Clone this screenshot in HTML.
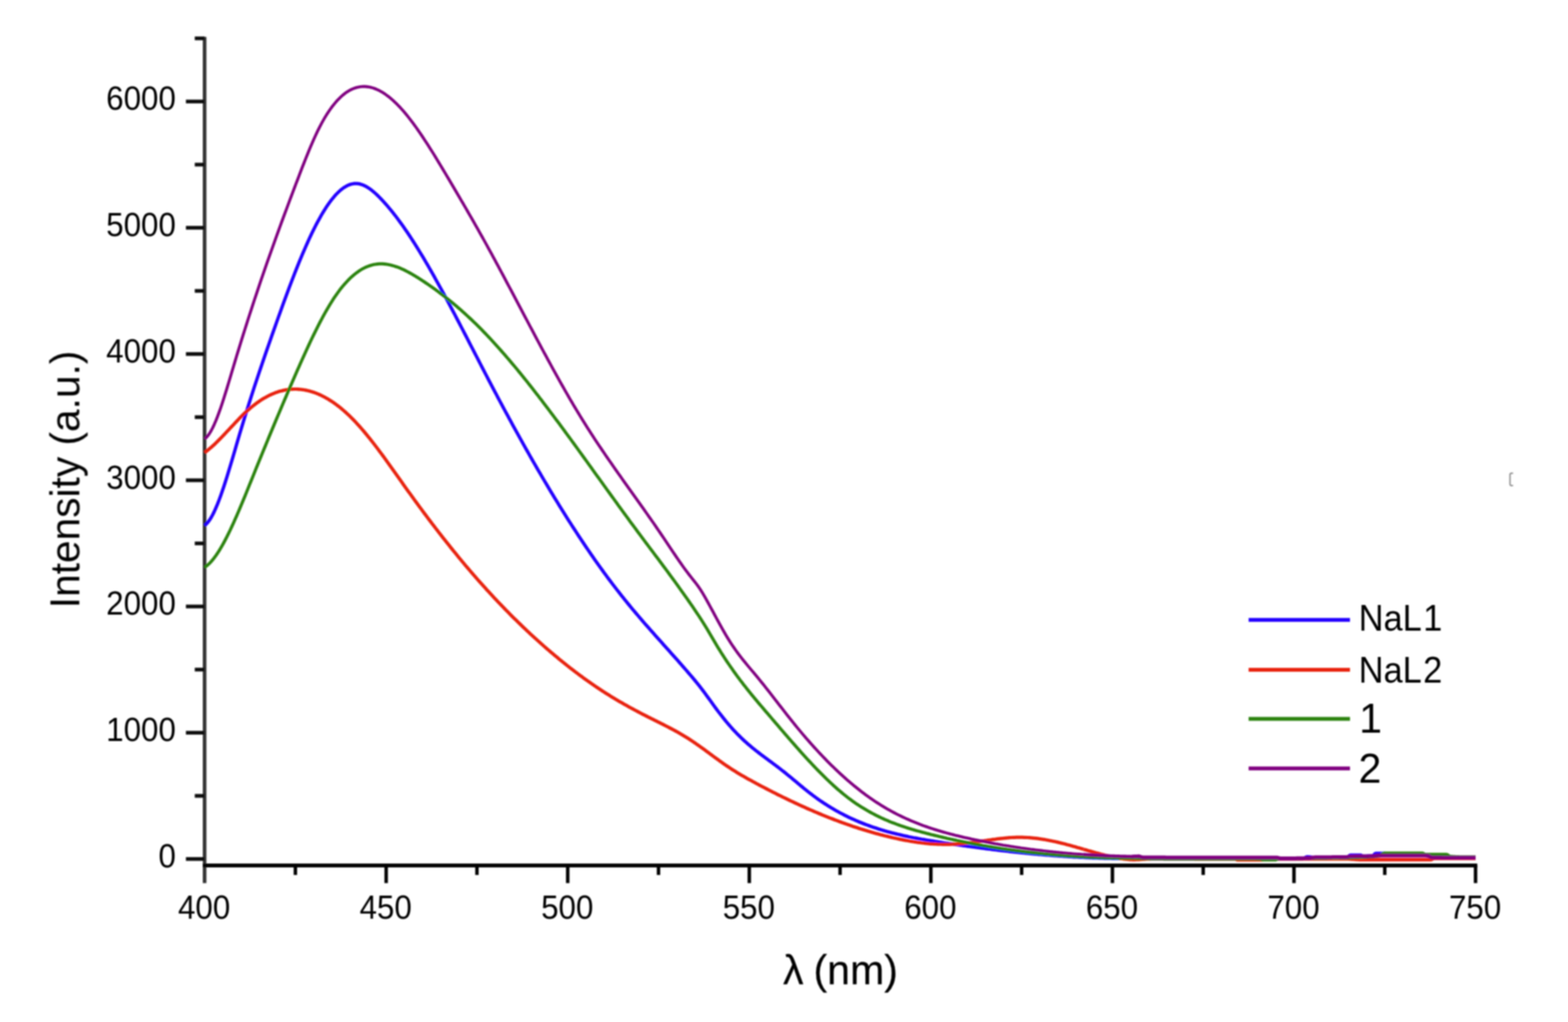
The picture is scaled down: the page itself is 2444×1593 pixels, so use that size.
<!DOCTYPE html>
<html lang="en"><head><meta charset="utf-8"><title>Emission spectra</title>
<style>
html,body{margin:0;padding:0;background:#fff;}
body{width:2444px;height:1593px;overflow:hidden;}
svg{display:block;}
text{font-family:"Liberation Sans",sans-serif;fill:#000;}
.tk{font-size:51.6px;}
.xt{font-size:65px;stroke:#000;stroke-width:0.25;paint-order:stroke fill;stroke-linejoin:round;}
.yt{font-size:65px;}
.lg{font-size:57px;}
.lgn{font-size:64px;}
.ax{fill:none;}
.cv{fill:none;stroke-linejoin:round;stroke-linecap:butt;}
</style></head><body>
<svg width="2444" height="1593" viewBox="0 0 2444 1593" role="img" aria-label="Emission spectra of NaL1, NaL2, 1 and 2">
<defs><filter id="soft" x="-2%" y="-2%" width="104%" height="104%"><feGaussianBlur stdDeviation="1.0"/></filter></defs>
<rect width="2444" height="1593" fill="#ffffff"/>
<g filter="url(#soft)">
<g class="ax" stroke="#303030" stroke-width="5.6">
<line x1="318.9" y1="57.5" x2="318.9" y2="1376.5"/>
</g>
<g class="ax" stroke="#101010" stroke-width="5.8">
<line x1="289.8" y1="1338.9" x2="318.9" y2="1338.9"/>
<line x1="303.6" y1="1240.5" x2="318.9" y2="1240.5"/>
<line x1="289.8" y1="1142.1" x2="318.9" y2="1142.1"/>
<line x1="303.6" y1="1043.7" x2="318.9" y2="1043.7"/>
<line x1="289.8" y1="945.3" x2="318.9" y2="945.3"/>
<line x1="303.6" y1="847.0" x2="318.9" y2="847.0"/>
<line x1="289.8" y1="748.6" x2="318.9" y2="748.6"/>
<line x1="303.6" y1="650.2" x2="318.9" y2="650.2"/>
<line x1="289.8" y1="551.8" x2="318.9" y2="551.8"/>
<line x1="303.6" y1="453.4" x2="318.9" y2="453.4"/>
<line x1="289.8" y1="355.0" x2="318.9" y2="355.0"/>
<line x1="303.6" y1="256.6" x2="318.9" y2="256.6"/>
<line x1="289.8" y1="158.2" x2="318.9" y2="158.2"/>
<line x1="303.6" y1="59.8" x2="318.9" y2="59.8"/>
</g>
<g class="ax" stroke="#000" stroke-width="6.2">
<line x1="316.1" y1="1349.0" x2="2302.6" y2="1349.0"/>
</g>
<g class="ax" stroke="#000" stroke-width="5.4">
<line x1="460.4" y1="1349.0" x2="460.4" y2="1363.8"/>
<line x1="601.9" y1="1349.0" x2="601.9" y2="1376.5"/>
<line x1="743.4" y1="1349.0" x2="743.4" y2="1363.8"/>
<line x1="884.9" y1="1349.0" x2="884.9" y2="1376.5"/>
<line x1="1026.4" y1="1349.0" x2="1026.4" y2="1363.8"/>
<line x1="1167.9" y1="1349.0" x2="1167.9" y2="1376.5"/>
<line x1="1309.4" y1="1349.0" x2="1309.4" y2="1363.8"/>
<line x1="1450.9" y1="1349.0" x2="1450.9" y2="1376.5"/>
<line x1="1592.4" y1="1349.0" x2="1592.4" y2="1363.8"/>
<line x1="1733.9" y1="1349.0" x2="1733.9" y2="1376.5"/>
<line x1="1875.4" y1="1349.0" x2="1875.4" y2="1363.8"/>
<line x1="2016.9" y1="1349.0" x2="2016.9" y2="1376.5"/>
<line x1="2158.4" y1="1349.0" x2="2158.4" y2="1363.8"/>
<line x1="2299.9" y1="1349.0" x2="2299.9" y2="1376.5"/>
</g>
<g class="cv" stroke="#2200ff">
<path stroke-width="5.2" d="M318.9,819.1 L321.4,817.0 L323.9,814.3 L326.4,810.9 L328.9,807.0 L331.4,802.5 L333.9,797.5 L336.4,791.9 L338.9,786.0 L341.4,779.6 L343.9,772.8 L346.4,765.7 L348.9,758.3 L351.4,750.6 L353.9,742.7 L356.4,734.6 L358.9,726.3 L361.4,717.9 L363.9,709.4 L366.4,700.9 L368.9,692.3 L371.4,683.8 L373.9,675.3 L376.4,667.0 L378.9,658.7 L381.4,650.5 L383.9,642.5 L386.4,634.5 L388.9,626.6 L391.4,618.7 L393.9,611.0 L396.4,603.3 L398.9,595.7 L401.4,588.2 L403.9,580.7 L406.4,573.3 L408.9,566.0 L411.4,558.7 L413.9,551.4 L416.4,544.2 L418.9,537.0 L421.4,529.9 L423.9,522.7 L426.4,515.6 L428.9,508.6 L431.4,501.5 L433.9,494.5 L436.4,487.6 L438.9,480.6 L441.4,473.7 L443.9,466.9 L446.4,460.1 L448.9,453.4 L451.4,446.7 L453.9,440.1 L456.4,433.6 L458.9,427.1 L461.4,420.8 L463.9,414.5 L466.4,408.3 L468.9,402.3 L471.4,396.3 L473.9,390.4 L476.4,384.7 L478.9,379.1 L481.4,373.5 L483.9,368.2 L486.4,362.9 L488.9,357.8 L491.4,352.9 L493.9,348.0 L496.4,343.4 L498.9,338.9 L501.4,334.5 L503.9,330.3 L506.4,326.3 L508.9,322.4 L511.4,318.7 L513.9,315.2 L516.4,311.9 L518.9,308.8 L521.4,305.8 L523.9,303.0 L526.4,300.5 L528.9,298.1 L531.4,295.9 L533.9,294.0 L536.4,292.2 L538.9,290.7 L541.4,289.3 L543.9,288.2 L546.4,287.3 L548.9,286.7 L551.4,286.2 L553.9,286.0 L556.4,286.1 L558.9,286.4 L561.4,286.9 L563.9,287.7 L566.4,288.6 L568.9,289.8 L571.4,291.1 L573.9,292.7 L576.4,294.4 L578.9,296.2 L581.4,298.2 L583.9,300.4 L586.4,302.6 L588.9,305.0 L591.4,307.5 L593.9,310.1 L596.4,312.7 L598.9,315.4 L601.4,318.2 L603.9,321.1 L606.4,324.1 L608.9,327.1 L611.4,330.2 L613.9,333.3 L616.4,336.5 L618.9,339.8 L621.4,343.2 L623.9,346.6 L626.4,350.1 L628.9,353.6 L631.4,357.2 L633.9,360.8 L636.4,364.5 L638.9,368.3 L641.4,372.1 L643.9,376.0 L646.4,379.9 L648.9,383.9 L651.4,387.9 L653.9,392.0 L656.4,396.1 L658.9,400.2 L661.4,404.4 L663.9,408.7 L666.4,412.9 L668.9,417.2 L671.4,421.6 L673.9,426.0 L676.4,430.4 L678.9,434.9 L681.4,439.4 L683.9,443.9 L686.4,448.4 L688.9,453.0 L691.4,457.6 L693.9,462.2 L696.4,466.9 L698.9,471.6 L701.4,476.2 L703.9,481.0 L706.4,485.7 L708.9,490.4 L711.4,495.2 L713.9,500.0 L716.4,504.8 L718.9,509.6 L721.4,514.4 L723.9,519.2 L726.4,524.0 L728.9,528.9 L731.4,533.7 L733.9,538.6 L736.4,543.4 L738.9,548.3 L741.4,553.1 L743.9,557.9 L746.4,562.8 L748.9,567.6 L751.4,572.5 L753.9,577.3 L756.4,582.1 L758.9,586.9 L761.4,591.7 L763.9,596.5 L766.4,601.2 L768.9,606.0 L771.4,610.7 L773.9,615.4 L776.4,620.2 L778.9,624.9 L781.4,629.5 L783.9,634.2 L786.4,638.9 L788.9,643.5 L791.4,648.1 L793.9,652.7 L796.4,657.3 L798.9,661.9 L801.4,666.5 L803.9,671.0 L806.4,675.5 L808.9,680.1 L811.4,684.6 L813.9,689.0 L816.4,693.5 L818.9,698.0 L821.4,702.4 L823.9,706.8 L826.4,711.2 L828.9,715.6 L831.4,720.0 L833.9,724.3 L836.4,728.6 L838.9,733.0 L841.4,737.2 L843.9,741.5 L846.4,745.8 L848.9,750.0 L851.4,754.2 L853.9,758.4 L856.4,762.6 L858.9,766.8 L861.4,770.9 L863.9,775.1 L866.4,779.2 L868.9,783.2 L871.4,787.3 L873.9,791.4 L876.4,795.4 L878.9,799.4 L881.4,803.4 L883.9,807.3 L886.4,811.3 L888.9,815.2 L891.4,819.1 L893.9,823.0 L896.4,826.8 L898.9,830.7 L901.4,834.5 L903.9,838.3 L906.4,842.0 L908.9,845.8 L911.4,849.5 L913.9,853.2 L916.4,856.9 L918.9,860.5 L921.4,864.2 L923.9,867.8 L926.4,871.4 L928.9,874.9 L931.4,878.5 L933.9,882.0 L936.4,885.5 L938.9,888.9 L941.4,892.4 L943.9,895.8 L946.4,899.2 L948.9,902.6 L951.4,905.9 L953.9,909.2 L956.4,912.5 L958.9,915.8 L961.4,919.0 L963.9,922.2 L966.4,925.4 L968.9,928.6 L971.4,931.7 L973.9,934.8 L976.4,937.9 L978.9,941.0 L981.4,944.0 L983.9,947.1 L986.4,950.1 L988.9,953.0 L991.4,956.0 L993.9,958.9 L996.4,961.9 L998.9,964.8 L1001.4,967.7 L1003.9,970.6 L1006.4,973.4 L1008.9,976.3 L1011.4,979.1 L1013.9,982.0 L1016.4,984.8 L1018.9,987.6 L1021.4,990.4 L1023.9,993.2 L1026.4,996.0 L1028.9,998.8 L1031.4,1001.6 L1033.9,1004.4 L1036.4,1007.2 L1038.9,1010.0 L1041.4,1012.8 L1043.9,1015.6 L1046.4,1018.4 L1048.9,1021.2 L1051.4,1024.0 L1053.9,1026.8 L1056.4,1029.6 L1058.9,1032.5 L1061.4,1035.3 L1063.9,1038.2 L1066.4,1041.0 L1068.9,1043.9 L1071.4,1046.8 L1073.9,1049.7 L1076.4,1052.6 L1078.9,1055.5 L1081.4,1058.5 L1083.9,1061.5 L1086.4,1064.6 L1088.9,1067.7 L1091.4,1070.9 L1093.9,1074.1 L1096.4,1077.4 L1098.9,1080.7 L1101.4,1084.2 L1103.9,1087.6 L1106.4,1091.1 L1108.9,1094.6 L1111.4,1098.0 L1113.9,1101.5 L1116.4,1104.9 L1118.9,1108.2 L1121.4,1111.5 L1123.9,1114.7 L1126.4,1117.9 L1128.9,1121.0 L1131.4,1124.1 L1133.9,1127.1 L1136.4,1130.0 L1138.9,1132.9 L1141.4,1135.7 L1143.9,1138.4 L1146.4,1141.1 L1148.9,1143.7 L1151.4,1146.2 L1153.9,1148.7 L1156.4,1151.1 L1158.9,1153.5 L1161.4,1155.8 L1163.9,1158.0 L1166.4,1160.2 L1168.9,1162.3 L1171.4,1164.4 L1173.9,1166.5 L1176.4,1168.5 L1178.9,1170.5 L1181.4,1172.4 L1183.9,1174.4 L1186.4,1176.3 L1188.9,1178.1 L1191.4,1180.0 L1193.9,1181.9 L1196.4,1183.7 L1198.9,1185.6 L1201.4,1187.4 L1203.9,1189.3 L1206.4,1191.2 L1208.9,1193.0 L1211.4,1194.9 L1213.9,1196.8 L1216.4,1198.7 L1218.9,1200.7 L1221.4,1202.6 L1223.9,1204.6 L1226.4,1206.7 L1228.9,1208.7 L1231.4,1210.8 L1233.9,1212.8 L1236.4,1214.9 L1238.9,1217.0 L1241.4,1219.1 L1243.9,1221.2 L1246.4,1223.3 L1248.9,1225.4 L1251.4,1227.4 L1253.9,1229.5 L1256.4,1231.5 L1258.9,1233.5 L1261.4,1235.5 L1263.9,1237.4 L1266.4,1239.3 L1268.9,1241.2 L1271.4,1243.0 L1273.9,1244.8 L1276.4,1246.6 L1278.9,1248.3 L1281.4,1250.0 L1283.9,1251.7 L1286.4,1253.3 L1288.9,1254.9 L1291.4,1256.5 L1293.9,1258.0 L1296.4,1259.6 L1298.9,1261.0 L1301.4,1262.5 L1303.9,1263.9 L1306.4,1265.3 L1308.9,1266.7 L1311.4,1268.0 L1313.9,1269.3 L1316.4,1270.6 L1318.9,1271.8 L1321.4,1273.1 L1323.9,1274.3 L1326.4,1275.5 L1328.9,1276.6 L1331.4,1277.7 L1333.9,1278.8 L1336.4,1279.9 L1338.9,1281.0 L1341.4,1282.0 L1343.9,1283.0 L1346.4,1284.0 L1348.9,1285.0 L1351.4,1285.9 L1353.9,1286.8 L1356.4,1287.7 L1358.9,1288.6 L1361.4,1289.5 L1363.9,1290.3 L1366.4,1291.1 L1368.9,1291.9 L1371.4,1292.7 L1373.9,1293.5 L1376.4,1294.2 L1378.9,1295.0 L1381.4,1295.7 L1383.9,1296.4 L1386.4,1297.1 L1388.9,1297.7 L1391.4,1298.4 L1393.9,1299.0 L1396.4,1299.6 L1398.9,1300.2 L1401.4,1300.8 L1403.9,1301.4 L1406.4,1302.0 L1408.9,1302.6 L1411.4,1303.1 L1413.9,1303.6 L1416.4,1304.2 L1418.9,1304.7 L1421.4,1305.2 L1423.9,1305.7 L1426.4,1306.1 L1428.9,1306.6 L1431.4,1307.1 L1433.9,1307.5 L1436.4,1308.0 L1438.9,1308.4 L1441.4,1308.9 L1443.9,1309.3 L1446.4,1309.7 L1448.9,1310.1 L1451.4,1310.5 L1453.9,1310.9 L1456.4,1311.3 L1458.9,1311.7 L1461.4,1312.1 L1463.9,1312.5 L1466.4,1312.9 L1468.9,1313.3 L1471.4,1313.7 L1473.9,1314.1 L1476.4,1314.4 L1478.9,1314.8 L1481.4,1315.2 L1483.9,1315.5 L1486.4,1315.9 L1488.9,1316.3 L1491.4,1316.6 L1493.9,1317.0 L1496.4,1317.4 L1498.9,1317.7 L1501.4,1318.1 L1503.9,1318.4 L1506.4,1318.8 L1508.9,1319.1 L1511.4,1319.5 L1513.9,1319.8 L1516.4,1320.2 L1518.9,1320.5 L1521.4,1320.8 L1523.9,1321.2 L1526.4,1321.5 L1528.9,1321.8 L1531.4,1322.2 L1533.9,1322.5 L1536.4,1322.8 L1538.9,1323.1 L1541.4,1323.4 L1543.9,1323.7 L1546.4,1324.1 L1548.9,1324.4 L1551.4,1324.7 L1553.9,1325.0 L1556.4,1325.3 L1558.9,1325.6 L1561.4,1325.9 L1563.9,1326.1 L1566.4,1326.4 L1568.9,1326.7 L1571.4,1327.0 L1573.9,1327.3 L1576.4,1327.6 L1578.9,1327.8 L1581.4,1328.1 L1583.9,1328.4 L1586.4,1328.6 L1588.9,1328.9 L1591.4,1329.1 L1593.9,1329.4 L1596.4,1329.6 L1598.9,1329.9 L1601.4,1330.1 L1603.9,1330.4 L1606.4,1330.6 L1608.9,1330.9 L1611.4,1331.1 L1613.9,1331.3 L1616.4,1331.5 L1618.9,1331.8 L1621.4,1332.0 L1623.9,1332.2 L1626.4,1332.4 L1628.9,1332.6 L1631.4,1332.8 L1633.9,1333.0 L1636.4,1333.2 L1638.9,1333.4 L1641.4,1333.6 L1643.9,1333.8 L1646.4,1334.0 L1648.9,1334.2 L1651.4,1334.3 L1653.9,1334.5 L1656.4,1334.7 L1658.9,1334.8 L1661.4,1335.0 L1663.9,1335.2 L1666.4,1335.3 L1668.9,1335.5 L1671.4,1335.6 L1673.9,1335.8 L1676.4,1335.9 L1678.9,1336.0 L1681.4,1336.2 L1683.9,1336.3 L1686.4,1336.4 L1688.9,1336.5"/>
<path stroke-width="5.4" d="M1688.9,1336.5 L1691.4,1336.6 L1693.9,1336.8 L1696.4,1336.9 L1698.9,1337.0 L1701.4,1337.1 L1703.9,1337.2 L1706.4,1337.3 L1708.9,1337.3 L1711.4,1337.4 L1713.9,1337.5 L1716.4,1337.6 L1718.9,1337.6 L1721.4,1337.7 L1723.9,1337.8 L1726.4,1337.8 L1728.9,1337.9 L1731.4,1337.9 L1733.9,1338.0 L1736.4,1338.0 L1738.9,1338.0 L1741.4,1338.1 L1743.9,1338.1 L1746.4,1338.1 L1748.9,1338.1 L1751.4,1338.2 L1753.9,1338.2 L1756.4,1338.2 L1758.9,1338.2 L1761.4,1338.2 L1763.9,1338.1"/>
<path stroke-width="5.6" d="M1763.9,1338.1 L1766.4,1338.2 L1767.9,1338.2 L1769.4,1338.2 L1770.9,1338.2 L1772.4,1338.2 L1773.9,1338.2 L1775.4,1338.2 L1776.9,1338.2 L1778.4,1338.2 L1779.9,1338.2 L1781.4,1338.3 L1782.9,1338.3 L1784.4,1338.3 L1785.9,1338.3 L1787.4,1338.3 L1788.9,1338.3 L1790.4,1338.3 L1791.9,1338.4 L1793.4,1338.4 L1794.9,1338.4 L1796.4,1338.4 L1797.9,1338.4 L1799.4,1338.4 L1800.9,1338.4 L1802.4,1338.4 L1803.9,1338.4 L1805.4,1338.4 L1806.9,1338.4 L1808.4,1338.4 L1809.9,1338.4 L1811.4,1338.4 L1812.9,1338.4 L1814.4,1338.4 L1815.9,1338.4 L1817.4,1338.4 L1818.9,1338.4 L1820.4,1338.4 L1821.9,1338.4 L1823.4,1338.4 L1824.9,1338.4 L1826.4,1338.4 L1827.9,1338.4 L1829.4,1338.4 L1830.9,1338.5 L1832.4,1338.5 L1833.9,1338.5 L1835.4,1338.5 L1836.9,1338.5 L1838.4,1338.5 L1839.9,1338.5 L1841.4,1338.5 L1842.9,1338.5 L1844.4,1338.5 L1845.9,1338.5 L1847.4,1338.5 L1848.9,1338.5 L1850.4,1338.5 L1851.9,1338.5 L1853.4,1338.5 L1854.9,1338.5 L1856.4,1338.5 L1857.9,1338.5 L1859.4,1338.5 L1860.9,1338.5 L1862.4,1338.5 L1863.9,1338.5 L1865.4,1338.5 L1866.9,1338.5 L1868.4,1338.5 L1869.9,1338.5 L1871.4,1338.5 L1872.9,1338.5 L1874.4,1338.5 L1875.9,1338.5 L1877.4,1338.5 L1878.9,1338.5 L1880.4,1338.5 L1881.9,1338.5 L1883.4,1338.5 L1884.9,1338.5 L1886.4,1338.5 L1887.9,1338.5 L1889.4,1338.5 L1890.9,1338.5 L1892.4,1338.5 L1893.9,1338.5 L1895.4,1338.5 L1896.9,1338.5 L1898.4,1338.5 L1899.9,1338.5 L1901.4,1338.5 L1902.9,1338.5 L1904.4,1338.5 L1905.9,1338.5 L1907.4,1338.5 L1908.9,1338.5 L1910.4,1338.5 L1911.9,1338.5 L1913.4,1338.5 L1914.9,1338.5 L1916.4,1338.5 L1917.9,1338.5 L1919.4,1338.5 L1920.9,1338.5 L1922.4,1338.5 L1923.9,1338.5 L1925.4,1338.5 L1926.9,1338.5 L1928.4,1338.5 L1929.9,1338.5 L1931.4,1338.5 L1932.9,1338.5 L1934.4,1338.5 L1935.9,1338.5 L1937.4,1338.5 L1938.9,1338.5 L1940.4,1338.5 L1941.9,1338.5 L1943.4,1338.5 L1944.9,1338.5 L1946.4,1338.5 L1947.9,1338.5 L1949.4,1338.5 L1950.9,1338.5 L1952.4,1338.5 L1953.9,1338.5 L1955.4,1338.5 L1956.9,1338.5 L1958.4,1338.5 L1959.9,1338.5 L1961.4,1338.5 L1962.9,1338.5 L1964.4,1338.5 L1965.9,1338.5 L1967.4,1338.5 L1968.9,1338.5 L1970.4,1338.5 L1971.9,1338.5 L1973.4,1338.5 L1974.9,1338.5 L1976.4,1338.5 L1977.9,1338.5 L1979.4,1338.5 L1980.9,1338.5 L1982.4,1338.5 L1983.9,1338.5 L1985.4,1338.5 L1986.9,1338.5 L1988.4,1338.5 L1989.9,1338.5 L1991.4,1338.5 L1992.9,1338.5 L1994.4,1338.5 L1995.9,1338.5 L1997.4,1338.5 L1998.9,1338.5 L2000.4,1338.5 L2001.9,1338.5 L2003.4,1338.5 L2004.9,1338.5 L2006.4,1338.5 L2007.9,1338.5 L2009.4,1338.5 L2010.9,1338.5 L2012.4,1338.5 L2013.9,1338.5 L2015.4,1338.5 L2016.9,1338.5 L2018.4,1338.5 L2019.9,1338.5 L2021.4,1338.5 L2022.9,1338.5 L2024.4,1338.5 L2025.9,1338.5 L2027.4,1338.5 L2028.9,1338.5 L2030.4,1338.5 L2031.9,1338.1 L2033.4,1337.4 L2034.9,1336.6 L2036.4,1335.9 L2037.9,1335.6 L2039.4,1335.7 L2040.9,1335.8 L2042.4,1336.0 L2043.9,1336.3 L2045.4,1336.5 L2046.9,1336.8 L2048.4,1336.9 L2049.9,1337.0 L2051.4,1337.0 L2052.9,1337.0 L2054.4,1337.0 L2055.9,1337.0 L2057.4,1337.0 L2058.9,1337.0 L2060.4,1337.0 L2061.9,1337.0 L2063.4,1337.0 L2064.9,1337.0 L2066.4,1337.0 L2067.9,1337.0 L2069.4,1337.0 L2070.9,1336.9 L2072.4,1336.9 L2073.9,1336.9 L2075.4,1336.9 L2076.9,1336.9 L2078.4,1336.9 L2079.9,1336.9 L2081.4,1336.9 L2082.9,1336.8 L2084.4,1336.8 L2085.9,1336.8 L2087.4,1336.8 L2088.9,1336.7 L2090.4,1336.7 L2091.9,1336.7 L2093.4,1336.7 L2094.9,1336.6 L2096.4,1336.6 L2097.9,1336.6 L2099.4,1336.5 L2100.9,1336.2 L2102.4,1334.8 L2103.9,1333.4 L2105.4,1333.0 L2106.9,1333.0 L2108.4,1333.0 L2109.9,1333.0 L2111.4,1333.0 L2112.9,1333.0 L2114.4,1333.0 L2115.9,1333.0 L2117.4,1333.0 L2118.9,1333.0 L2120.4,1333.0 L2121.9,1333.5 L2123.4,1334.1 L2124.9,1334.5 L2126.4,1334.5 L2127.9,1334.5 L2129.4,1334.5 L2130.9,1334.4 L2132.4,1334.4 L2133.9,1334.3 L2135.4,1334.3 L2136.9,1334.2 L2138.4,1334.1 L2139.9,1334.0 L2141.4,1332.9 L2142.9,1331.0 L2144.4,1330.4 L2145.9,1330.4 L2147.4,1330.4 L2148.9,1330.4 L2150.4,1330.4 L2151.9,1330.4 L2153.4,1330.4 L2154.9,1330.4 L2156.4,1330.4 L2157.9,1330.4 L2159.4,1330.7 L2160.9,1331.4 L2162.4,1331.9 L2163.9,1332.0 L2165.4,1332.1 L2166.9,1332.2 L2168.4,1332.2 L2169.9,1332.2 L2171.4,1332.3 L2172.9,1332.3 L2174.4,1332.4 L2175.9,1332.4 L2177.4,1332.4 L2178.9,1332.4 L2180.4,1332.5 L2181.9,1332.5 L2183.4,1332.5 L2184.9,1332.5 L2186.4,1332.5 L2187.9,1332.5 L2189.4,1332.5 L2190.9,1332.5 L2192.4,1332.5 L2193.9,1332.5 L2195.4,1332.6 L2196.9,1332.6 L2198.4,1332.6 L2199.9,1332.6 L2201.4,1332.6 L2202.9,1332.6 L2204.4,1332.6 L2205.9,1332.7 L2207.4,1332.7 L2208.9,1332.7 L2210.4,1332.7 L2211.9,1332.8 L2213.4,1332.8 L2214.9,1332.8 L2216.4,1332.9 L2217.9,1332.9 L2219.4,1333.0 L2220.9,1333.1 L2222.4,1333.3 L2223.9,1333.7 L2225.4,1334.1 L2226.9,1334.6 L2228.4,1335.1 L2229.9,1335.6 L2231.4,1336.0 L2232.9,1336.3 L2234.4,1336.5 L2235.9,1336.5 L2237.4,1336.5 L2238.9,1336.6 L2240.4,1336.6 L2241.9,1336.6 L2243.4,1336.6 L2244.9,1336.7 L2246.4,1336.7 L2247.9,1336.7 L2249.4,1336.7 L2250.9,1336.7 L2252.4,1336.8 L2253.9,1336.8 L2255.4,1336.8 L2256.9,1336.8 L2258.4,1336.8 L2259.9,1336.8 L2261.4,1336.9 L2262.9,1336.9 L2264.4,1336.9 L2265.9,1336.9 L2267.4,1336.9 L2268.9,1336.9 L2270.4,1336.9 L2271.9,1336.9 L2273.4,1336.9 L2274.9,1336.9 L2276.4,1337.0 L2277.9,1337.0 L2279.4,1337.0 L2280.9,1337.0 L2282.4,1337.0 L2283.9,1337.0 L2285.4,1337.0 L2286.9,1337.0 L2288.4,1337.0 L2289.9,1337.0 L2291.4,1337.0 L2292.9,1337.0 L2294.4,1337.0 L2295.9,1337.0 L2297.4,1337.0 L2298.9,1337.0 L2300.0,1337.0"/>
</g>
<g class="cv" stroke="#e8200c">
<path stroke-width="5.2" d="M318.9,705.5 L321.4,703.6 L323.9,701.7 L326.4,699.6 L328.9,697.5 L331.4,695.3 L333.9,693.0 L336.4,690.6 L338.9,688.2 L341.4,685.7 L343.9,683.1 L346.4,680.5 L348.9,677.9 L351.4,675.3 L353.9,672.6 L356.4,669.9 L358.9,667.2 L361.4,664.6 L363.9,661.9 L366.4,659.2 L368.9,656.6 L371.4,654.0 L373.9,651.4 L376.4,648.9 L378.9,646.4 L381.4,644.0 L383.9,641.7 L386.4,639.4 L388.9,637.2 L391.4,635.1 L393.9,633.0 L396.4,631.1 L398.9,629.2 L401.4,627.4 L403.9,625.6 L406.4,623.9 L408.9,622.3 L411.4,620.8 L413.9,619.4 L416.4,618.0 L418.9,616.7 L421.4,615.5 L423.9,614.4 L426.4,613.3 L428.9,612.3 L431.4,611.4 L433.9,610.6 L436.4,609.8 L438.9,609.2 L441.4,608.6 L443.9,608.0 L446.4,607.6 L448.9,607.2 L451.4,606.9 L453.9,606.7 L456.4,606.6 L458.9,606.5 L461.4,606.5 L463.9,606.6 L466.4,606.8 L468.9,607.0 L471.4,607.3 L473.9,607.7 L476.4,608.1 L478.9,608.7 L481.4,609.3 L483.9,610.0 L486.4,610.7 L488.9,611.5 L491.4,612.4 L493.9,613.4 L496.4,614.4 L498.9,615.5 L501.4,616.7 L503.9,618.0 L506.4,619.3 L508.9,620.7 L511.4,622.1 L513.9,623.7 L516.4,625.3 L518.9,626.9 L521.4,628.7 L523.9,630.5 L526.4,632.4 L528.9,634.3 L531.4,636.3 L533.9,638.4 L536.4,640.6 L538.9,642.8 L541.4,645.1 L543.9,647.4 L546.4,649.8 L548.9,652.3 L551.4,654.9 L553.9,657.5 L556.4,660.2 L558.9,662.9 L561.4,665.7 L563.9,668.6 L566.4,671.5 L568.9,674.5 L571.4,677.5 L573.9,680.6 L576.4,683.7 L578.9,686.8 L581.4,690.0 L583.9,693.3 L586.4,696.5 L588.9,699.8 L591.4,703.2 L593.9,706.5 L596.4,709.9 L598.9,713.3 L601.4,716.8 L603.9,720.2 L606.4,723.7 L608.9,727.2 L611.4,730.7 L613.9,734.2 L616.4,737.7 L618.9,741.3 L621.4,744.8 L623.9,748.3 L626.4,751.8 L628.9,755.4 L631.4,758.9 L633.9,762.4 L636.4,765.9 L638.9,769.3 L641.4,772.8 L643.9,776.3 L646.4,779.7 L648.9,783.1 L651.4,786.6 L653.9,790.0 L656.4,793.3 L658.9,796.7 L661.4,800.1 L663.9,803.4 L666.4,806.8 L668.9,810.1 L671.4,813.4 L673.9,816.7 L676.4,819.9 L678.9,823.2 L681.4,826.4 L683.9,829.7 L686.4,832.9 L688.9,836.1 L691.4,839.3 L693.9,842.4 L696.4,845.6 L698.9,848.7 L701.4,851.9 L703.9,855.0 L706.4,858.1 L708.9,861.1 L711.4,864.2 L713.9,867.3 L716.4,870.3 L718.9,873.3 L721.4,876.3 L723.9,879.3 L726.4,882.3 L728.9,885.2 L731.4,888.1 L733.9,891.1 L736.4,894.0 L738.9,896.9 L741.4,899.7 L743.9,902.6 L746.4,905.4 L748.9,908.2 L751.4,911.0 L753.9,913.8 L756.4,916.6 L758.9,919.4 L761.4,922.1 L763.9,924.8 L766.4,927.5 L768.9,930.2 L771.4,932.9 L773.9,935.6 L776.4,938.2 L778.9,940.8 L781.4,943.4 L783.9,946.0 L786.4,948.6 L788.9,951.2 L791.4,953.7 L793.9,956.3 L796.4,958.8 L798.9,961.3 L801.4,963.8 L803.9,966.2 L806.4,968.7 L808.9,971.1 L811.4,973.5 L813.9,976.0 L816.4,978.3 L818.9,980.7 L821.4,983.1 L823.9,985.4 L826.4,987.8 L828.9,990.1 L831.4,992.4 L833.9,994.7 L836.4,996.9 L838.9,999.2 L841.4,1001.4 L843.9,1003.7 L846.4,1005.9 L848.9,1008.1 L851.4,1010.3 L853.9,1012.4 L856.4,1014.6 L858.9,1016.7 L861.4,1018.8 L863.9,1020.9 L866.4,1023.0 L868.9,1025.1 L871.4,1027.2 L873.9,1029.2 L876.4,1031.3 L878.9,1033.3 L881.4,1035.3 L883.9,1037.3 L886.4,1039.2 L888.9,1041.2 L891.4,1043.1 L893.9,1045.0 L896.4,1047.0 L898.9,1048.8 L901.4,1050.7 L903.9,1052.6 L906.4,1054.4 L908.9,1056.3 L911.4,1058.1 L913.9,1059.9 L916.4,1061.6 L918.9,1063.4 L921.4,1065.2 L923.9,1066.9 L926.4,1068.6 L928.9,1070.3 L931.4,1072.0 L933.9,1073.7 L936.4,1075.3 L938.9,1077.0 L941.4,1078.6 L943.9,1080.2 L946.4,1081.8 L948.9,1083.3 L951.4,1084.9 L953.9,1086.4 L956.4,1087.9 L958.9,1089.5 L961.4,1090.9 L963.9,1092.4 L966.4,1093.9 L968.9,1095.3 L971.4,1096.8 L973.9,1098.2 L976.4,1099.6 L978.9,1101.0 L981.4,1102.4 L983.9,1103.8 L986.4,1105.1 L988.9,1106.5 L991.4,1107.8 L993.9,1109.1 L996.4,1110.4 L998.9,1111.8 L1001.4,1113.1 L1003.9,1114.3 L1006.4,1115.6 L1008.9,1116.9 L1011.4,1118.2 L1013.9,1119.4 L1016.4,1120.7 L1018.9,1121.9 L1021.4,1123.2 L1023.9,1124.4 L1026.4,1125.7 L1028.9,1126.9 L1031.4,1128.2 L1033.9,1129.4 L1036.4,1130.7 L1038.9,1132.0 L1041.4,1133.3 L1043.9,1134.6 L1046.4,1135.9 L1048.9,1137.2 L1051.4,1138.6 L1053.9,1139.9 L1056.4,1141.3 L1058.9,1142.8 L1061.4,1144.2 L1063.9,1145.7 L1066.4,1147.2 L1068.9,1148.7 L1071.4,1150.2 L1073.9,1151.8 L1076.4,1153.5 L1078.9,1155.1 L1081.4,1156.8 L1083.9,1158.5 L1086.4,1160.3 L1088.9,1162.0 L1091.4,1163.8 L1093.9,1165.6 L1096.4,1167.4 L1098.9,1169.2 L1101.4,1171.1 L1103.9,1172.9 L1106.4,1174.8 L1108.9,1176.6 L1111.4,1178.5 L1113.9,1180.3 L1116.4,1182.1 L1118.9,1183.9 L1121.4,1185.8 L1123.9,1187.5 L1126.4,1189.3 L1128.9,1191.1 L1131.4,1192.8 L1133.9,1194.5 L1136.4,1196.2 L1138.9,1197.9 L1141.4,1199.5 L1143.9,1201.1 L1146.4,1202.6 L1148.9,1204.2 L1151.4,1205.7 L1153.9,1207.2 L1156.4,1208.7 L1158.9,1210.1 L1161.4,1211.5 L1163.9,1213.0 L1166.4,1214.4 L1168.9,1215.7 L1171.4,1217.1 L1173.9,1218.5 L1176.4,1219.8 L1178.9,1221.2 L1181.4,1222.5 L1183.9,1223.9 L1186.4,1225.2 L1188.9,1226.5 L1191.4,1227.8 L1193.9,1229.1 L1196.4,1230.4 L1198.9,1231.7 L1201.4,1233.0 L1203.9,1234.3 L1206.4,1235.5 L1208.9,1236.8 L1211.4,1238.1 L1213.9,1239.3 L1216.4,1240.5 L1218.9,1241.8 L1221.4,1243.0 L1223.9,1244.2 L1226.4,1245.4 L1228.9,1246.6 L1231.4,1247.8 L1233.9,1249.0 L1236.4,1250.2 L1238.9,1251.4 L1241.4,1252.5 L1243.9,1253.7 L1246.4,1254.8 L1248.9,1256.0 L1251.4,1257.1 L1253.9,1258.2 L1256.4,1259.4 L1258.9,1260.5 L1261.4,1261.6 L1263.9,1262.7 L1266.4,1263.7 L1268.9,1264.8 L1271.4,1265.9 L1273.9,1266.9 L1276.4,1268.0 L1278.9,1269.0 L1281.4,1270.1 L1283.9,1271.1 L1286.4,1272.1 L1288.9,1273.1 L1291.4,1274.1 L1293.9,1275.1 L1296.4,1276.0 L1298.9,1277.0 L1301.4,1278.0 L1303.9,1278.9 L1306.4,1279.8 L1308.9,1280.8 L1311.4,1281.7 L1313.9,1282.6 L1316.4,1283.5 L1318.9,1284.4 L1321.4,1285.3 L1323.9,1286.1 L1326.4,1287.0 L1328.9,1287.9 L1331.4,1288.7 L1333.9,1289.5 L1336.4,1290.3 L1338.9,1291.2 L1341.4,1292.0 L1343.9,1292.7 L1346.4,1293.5 L1348.9,1294.3 L1351.4,1295.0 L1353.9,1295.8 L1356.4,1296.5 L1358.9,1297.3 L1361.4,1298.0 L1363.9,1298.7 L1366.4,1299.4 L1368.9,1300.0 L1371.4,1300.7 L1373.9,1301.4 L1376.4,1302.0 L1378.9,1302.7 L1381.4,1303.3 L1383.9,1303.9 L1386.4,1304.5 L1388.9,1305.1 L1391.4,1305.7 L1393.9,1306.2 L1396.4,1306.8 L1398.9,1307.3 L1401.4,1307.9 L1403.9,1308.4 L1406.4,1308.9 L1408.9,1309.4 L1411.4,1309.9 L1413.9,1310.3 L1416.4,1310.8 L1418.9,1311.2 L1421.4,1311.6 L1423.9,1312.0 L1426.4,1312.4 L1428.9,1312.8 L1431.4,1313.1 L1433.9,1313.4 L1436.4,1313.8 L1438.9,1314.0 L1441.4,1314.3 L1443.9,1314.6 L1446.4,1314.8 L1448.9,1315.1 L1451.4,1315.3 L1453.9,1315.4 L1456.4,1315.6 L1458.9,1315.7 L1461.4,1315.9 L1463.9,1316.0 L1466.4,1316.0 L1468.9,1316.1 L1471.4,1316.1 L1473.9,1316.2 L1476.4,1316.2 L1478.9,1316.1 L1481.4,1316.1 L1483.9,1316.0 L1486.4,1315.9 L1488.9,1315.8 L1491.4,1315.6 L1493.9,1315.4 L1496.4,1315.2 L1498.9,1315.0 L1501.4,1314.8 L1503.9,1314.5 L1506.4,1314.3 L1508.9,1314.0 L1511.4,1313.7 L1513.9,1313.3 L1516.4,1313.0 L1518.9,1312.7 L1521.4,1312.3 L1523.9,1312.0 L1526.4,1311.6 L1528.9,1311.3 L1531.4,1310.9 L1533.9,1310.5 L1536.4,1310.2 L1538.9,1309.8 L1541.4,1309.4 L1543.9,1309.1 L1546.4,1308.7 L1548.9,1308.4 L1551.4,1308.1 L1553.9,1307.7 L1556.4,1307.4 L1558.9,1307.1 L1561.4,1306.8 L1563.9,1306.6 L1566.4,1306.3 L1568.9,1306.1 L1571.4,1305.9 L1573.9,1305.7 L1576.4,1305.5 L1578.9,1305.4 L1581.4,1305.3 L1583.9,1305.2 L1586.4,1305.2 L1588.9,1305.1 L1591.4,1305.1 L1593.9,1305.2 L1596.4,1305.3 L1598.9,1305.4 L1601.4,1305.5 L1603.9,1305.7 L1606.4,1305.9 L1608.9,1306.1 L1611.4,1306.3 L1613.9,1306.6 L1616.4,1306.9 L1618.9,1307.2 L1621.4,1307.6 L1623.9,1308.0 L1626.4,1308.4 L1628.9,1308.8 L1631.4,1309.2 L1633.9,1309.7 L1636.4,1310.2 L1638.9,1310.7 L1641.4,1311.2 L1643.9,1311.7 L1646.4,1312.3 L1648.9,1312.9 L1651.4,1313.5 L1653.9,1314.1 L1656.4,1314.7 L1658.9,1315.3 L1661.4,1316.0 L1663.9,1316.7 L1666.4,1317.3 L1668.9,1318.0 L1671.4,1318.7 L1673.9,1319.4 L1676.4,1320.1 L1678.9,1320.9 L1681.4,1321.6 L1683.9,1322.3 L1686.4,1323.0 L1688.9,1323.8"/>
<path stroke-width="5.4" d="M1688.9,1323.8 L1691.4,1324.5 L1693.9,1325.2 L1696.4,1326.0 L1698.9,1326.7 L1701.4,1327.4 L1703.9,1328.1 L1706.4,1328.8 L1708.9,1329.5 L1711.4,1330.2 L1713.9,1330.9 L1716.4,1331.6 L1718.9,1332.2 L1721.4,1332.9 L1723.9,1333.5 L1726.4,1334.1 L1728.9,1334.7 L1731.4,1335.2 L1733.9,1335.7 L1736.4,1336.3 L1738.9,1336.7 L1741.4,1337.2 L1743.9,1337.6 L1746.4,1338.1 L1748.9,1338.4 L1751.4,1338.8 L1753.9,1339.1 L1756.4,1339.4 L1758.9,1339.6 L1761.4,1339.8 L1763.9,1340.0"/>
<path stroke-width="5.6" d="M1763.9,1340.0 L1766.4,1340.0 L1767.9,1339.9 L1769.4,1339.9 L1770.9,1339.8 L1772.4,1339.8 L1773.9,1339.7 L1775.4,1339.6 L1776.9,1339.5 L1778.4,1339.4 L1779.9,1339.3 L1781.4,1339.2 L1782.9,1339.1 L1784.4,1339.0 L1785.9,1338.9 L1787.4,1338.8 L1788.9,1338.8 L1790.4,1338.7 L1791.9,1338.6 L1793.4,1338.5 L1794.9,1338.5 L1796.4,1338.4 L1797.9,1338.4 L1799.4,1338.4 L1800.9,1338.4 L1802.4,1338.4 L1803.9,1338.4 L1805.4,1338.4 L1806.9,1338.4 L1808.4,1338.4 L1809.9,1338.4 L1811.4,1338.4 L1812.9,1338.4 L1814.4,1338.4 L1815.9,1338.4 L1817.4,1338.4 L1818.9,1338.4 L1820.4,1338.4 L1821.9,1338.4 L1823.4,1338.4 L1824.9,1338.4 L1826.4,1338.4 L1827.9,1338.4 L1829.4,1338.4 L1830.9,1338.4 L1832.4,1338.4 L1833.9,1338.5 L1835.4,1338.5 L1836.9,1338.5 L1838.4,1338.5 L1839.9,1338.5 L1841.4,1338.5 L1842.9,1338.5 L1844.4,1338.5 L1845.9,1338.5 L1847.4,1338.5 L1848.9,1338.5 L1850.4,1338.5 L1851.9,1338.5 L1853.4,1338.5 L1854.9,1338.5 L1856.4,1338.5 L1857.9,1338.5 L1859.4,1338.5 L1860.9,1338.5 L1862.4,1338.6 L1863.9,1338.6 L1865.4,1338.6 L1866.9,1338.6 L1868.4,1338.6 L1869.9,1338.6 L1871.4,1338.6 L1872.9,1338.6 L1874.4,1338.6 L1875.9,1338.6 L1877.4,1338.6 L1878.9,1338.6 L1880.4,1338.6 L1881.9,1338.6 L1883.4,1338.6 L1884.9,1338.6 L1886.4,1338.6 L1887.9,1338.7 L1889.4,1338.7 L1890.9,1338.7 L1892.4,1338.7 L1893.9,1338.7 L1895.4,1338.7 L1896.9,1338.7 L1898.4,1338.7 L1899.9,1338.7 L1901.4,1338.7 L1902.9,1338.7 L1904.4,1338.7 L1905.9,1338.7 L1907.4,1338.7 L1908.9,1338.7 L1910.4,1338.7 L1911.9,1338.7 L1913.4,1338.7 L1914.9,1338.7 L1916.4,1338.7 L1917.9,1338.7 L1919.4,1338.8 L1920.9,1338.8 L1922.4,1338.8 L1923.9,1338.8 L1925.4,1338.8 L1926.9,1339.5 L1928.4,1340.1 L1929.9,1340.2 L1931.4,1340.2 L1932.9,1340.2 L1934.4,1340.2 L1935.9,1340.2 L1937.4,1340.2 L1938.9,1340.2 L1940.4,1340.2 L1941.9,1340.2 L1943.4,1340.2 L1944.9,1340.2 L1946.4,1340.2 L1947.9,1340.2 L1949.4,1340.2 L1950.9,1340.2 L1952.4,1340.2 L1953.9,1340.2 L1955.4,1340.2 L1956.9,1340.2 L1958.4,1340.2 L1959.9,1340.2 L1961.4,1340.2 L1962.9,1340.2 L1964.4,1340.2 L1965.9,1340.2 L1967.4,1339.8 L1968.9,1339.1 L1970.4,1338.8 L1971.9,1338.8 L1973.4,1338.8 L1974.9,1338.8 L1976.4,1338.8 L1977.9,1338.8 L1979.4,1338.8 L1980.9,1338.8 L1982.4,1338.8 L1983.9,1338.8 L1985.4,1338.8 L1986.9,1338.8 L1988.4,1338.8 L1989.9,1338.8 L1991.4,1338.8 L1992.9,1338.8 L1994.4,1338.8 L1995.9,1338.8 L1997.4,1338.8 L1998.9,1338.8 L2000.4,1338.8 L2001.9,1338.8 L2003.4,1338.8 L2004.9,1338.8 L2006.4,1338.8 L2007.9,1338.8 L2009.4,1338.8 L2010.9,1338.8 L2012.4,1338.8 L2013.9,1338.8 L2015.4,1338.8 L2016.9,1338.8 L2018.4,1338.8 L2019.9,1338.8 L2021.4,1338.8 L2022.9,1338.8 L2024.4,1338.8 L2025.9,1338.8 L2027.4,1338.8 L2028.9,1338.8 L2030.4,1338.8 L2031.9,1338.8 L2033.4,1338.8 L2034.9,1338.8 L2036.4,1338.8 L2037.9,1338.8 L2039.4,1338.8 L2040.9,1338.8 L2042.4,1338.8 L2043.9,1338.8 L2045.4,1338.8 L2046.9,1338.8 L2048.4,1338.8 L2049.9,1338.8 L2051.4,1338.8 L2052.9,1338.8 L2054.4,1338.8 L2055.9,1338.8 L2057.4,1338.8 L2058.9,1338.8 L2060.4,1338.8 L2061.9,1338.8 L2063.4,1338.8 L2064.9,1338.8 L2066.4,1338.8 L2067.9,1338.8 L2069.4,1338.8 L2070.9,1338.8 L2072.4,1338.8 L2073.9,1338.8 L2075.4,1338.8 L2076.9,1338.8 L2078.4,1338.8 L2079.9,1338.8 L2081.4,1338.8 L2082.9,1338.8 L2084.4,1338.8 L2085.9,1338.8 L2087.4,1338.8 L2088.9,1338.8 L2090.4,1338.8 L2091.9,1338.8 L2093.4,1338.8 L2094.9,1338.8 L2096.4,1338.8 L2097.9,1338.8 L2099.4,1338.8 L2100.9,1338.8 L2102.4,1338.8 L2103.9,1338.9 L2105.4,1339.0 L2106.9,1339.1 L2108.4,1339.2 L2109.9,1339.3 L2111.4,1339.4 L2112.9,1339.5 L2114.4,1339.6 L2115.9,1339.7 L2117.4,1339.8 L2118.9,1339.9 L2120.4,1340.0 L2121.9,1340.0 L2123.4,1340.0 L2124.9,1340.0 L2126.4,1340.0 L2127.9,1340.0 L2129.4,1340.0 L2130.9,1340.0 L2132.4,1340.0 L2133.9,1340.0 L2135.4,1340.0 L2136.9,1340.0 L2138.4,1340.0 L2139.9,1340.0 L2141.4,1340.0 L2142.9,1340.0 L2144.4,1340.0 L2145.9,1340.0 L2147.4,1340.0 L2148.9,1340.0 L2150.4,1340.0 L2151.9,1340.0 L2153.4,1340.0 L2154.9,1340.0 L2156.4,1340.0 L2157.9,1340.0 L2159.4,1340.0 L2160.9,1340.0 L2162.4,1340.0 L2163.9,1340.0 L2165.4,1340.0 L2166.9,1340.0 L2168.4,1340.0 L2169.9,1340.0 L2171.4,1340.0 L2172.9,1340.0 L2174.4,1340.0 L2175.9,1340.0 L2177.4,1340.0 L2178.9,1340.0 L2180.4,1340.0 L2181.9,1340.0 L2183.4,1340.0 L2184.9,1340.0 L2186.4,1340.0 L2187.9,1340.0 L2189.4,1340.0 L2190.9,1340.0 L2192.4,1340.0 L2193.9,1340.0 L2195.4,1340.0 L2196.9,1340.0 L2198.4,1340.0 L2199.9,1340.0 L2201.4,1340.0 L2202.9,1340.0 L2204.4,1340.0 L2205.9,1340.0 L2207.4,1340.0 L2208.9,1340.0 L2210.4,1340.0 L2211.9,1340.0 L2213.4,1340.0 L2214.9,1340.0 L2216.4,1340.0 L2217.9,1340.0 L2219.4,1340.0 L2220.9,1340.0 L2222.4,1340.0 L2223.9,1340.0 L2225.4,1340.0 L2226.9,1340.0 L2228.4,1340.0 L2229.9,1340.0 L2231.4,1339.6 L2232.9,1338.8 L2234.4,1338.1 L2235.9,1338.0 L2237.4,1338.0 L2238.9,1338.0 L2240.4,1338.0 L2241.9,1338.0 L2243.4,1338.0 L2244.9,1338.0 L2246.4,1338.0 L2247.9,1338.0 L2249.4,1338.0 L2250.9,1338.0 L2252.4,1338.0 L2253.9,1338.0 L2255.4,1338.0 L2256.9,1338.0 L2258.4,1338.0 L2259.9,1338.0 L2261.4,1338.0 L2262.9,1338.0 L2264.4,1338.0 L2265.9,1338.0 L2267.4,1338.0 L2268.9,1338.0 L2270.4,1338.0 L2271.9,1338.0 L2273.4,1338.0 L2274.9,1338.0 L2276.4,1338.0 L2277.9,1338.0 L2279.4,1338.0 L2280.9,1338.0 L2282.4,1338.0 L2283.9,1338.0 L2285.4,1338.0 L2286.9,1338.0 L2288.4,1338.0 L2289.9,1338.0 L2291.4,1338.0 L2292.9,1338.0 L2294.4,1338.0 L2295.9,1338.0 L2297.4,1338.0 L2298.9,1338.0 L2300.0,1338.0"/>
</g>
<g class="cv" stroke="#2b830f">
<path stroke-width="4.9" d="M318.9,884.4 L321.4,882.6 L323.9,880.6 L326.4,878.2 L328.9,875.6 L331.4,872.7 L333.9,869.5 L336.4,866.1 L338.9,862.5 L341.4,858.6 L343.9,854.5 L346.4,850.2 L348.9,845.7 L351.4,841.0 L353.9,836.2 L356.4,831.1 L358.9,826.0 L361.4,820.6 L363.9,815.2 L366.4,809.6 L368.9,803.9 L371.4,798.1 L373.9,792.2 L376.4,786.3 L378.9,780.3 L381.4,774.2 L383.9,768.1 L386.4,761.9 L388.9,755.7 L391.4,749.5 L393.9,743.3 L396.4,737.1 L398.9,730.9 L401.4,724.8 L403.9,718.6 L406.4,712.5 L408.9,706.3 L411.4,700.2 L413.9,694.2 L416.4,688.1 L418.9,682.0 L421.4,676.0 L423.9,670.0 L426.4,664.0 L428.9,658.0 L431.4,652.0 L433.9,646.1 L436.4,640.2 L438.9,634.3 L441.4,628.4 L443.9,622.5 L446.4,616.7 L448.9,610.8 L451.4,605.0 L453.9,599.3 L456.4,593.5 L458.9,587.7 L461.4,582.0 L463.9,576.3 L466.4,570.7 L468.9,565.0 L471.4,559.5 L473.9,553.9 L476.4,548.4 L478.9,543.0 L481.4,537.6 L483.9,532.3 L486.4,527.0 L488.9,521.9 L491.4,516.8 L493.9,511.8 L496.4,506.8 L498.9,502.0 L501.4,497.3 L503.9,492.6 L506.4,488.1 L508.9,483.7 L511.4,479.4 L513.9,475.2 L516.4,471.2 L518.9,467.2 L521.4,463.4 L523.9,459.8 L526.4,456.3 L528.9,452.9 L531.4,449.6 L533.9,446.5 L536.4,443.6 L538.9,440.8 L541.4,438.1 L543.9,435.5 L546.4,433.1 L548.9,430.8 L551.4,428.6 L553.9,426.6 L556.4,424.7 L558.9,422.9 L561.4,421.3 L563.9,419.7 L566.4,418.4 L568.9,417.1 L571.4,416.0 L573.9,415.0 L576.4,414.1 L578.9,413.3 L581.4,412.7 L583.9,412.2 L586.4,411.8 L588.9,411.5 L591.4,411.3 L593.9,411.3 L596.4,411.3 L598.9,411.5 L601.4,411.8 L603.9,412.1 L606.4,412.6 L608.9,413.1 L611.4,413.8 L613.9,414.5 L616.4,415.3 L618.9,416.1 L621.4,417.1 L623.9,418.1 L626.4,419.2 L628.9,420.3 L631.4,421.5 L633.9,422.8 L636.4,424.1 L638.9,425.5 L641.4,426.9 L643.9,428.3 L646.4,429.8 L648.9,431.4 L651.4,432.9 L653.9,434.5 L656.4,436.1 L658.9,437.7 L661.4,439.4 L663.9,441.1 L666.4,442.8 L668.9,444.5 L671.4,446.2 L673.9,448.0 L676.4,449.8 L678.9,451.6 L681.4,453.4 L683.9,455.3 L686.4,457.2 L688.9,459.1 L691.4,461.0 L693.9,462.9 L696.4,464.9 L698.9,466.9 L701.4,468.9 L703.9,471.0 L706.4,473.0 L708.9,475.1 L711.4,477.2 L713.9,479.4 L716.4,481.5 L718.9,483.7 L721.4,486.0 L723.9,488.2 L726.4,490.5 L728.9,492.8 L731.4,495.1 L733.9,497.4 L736.4,499.8 L738.9,502.2 L741.4,504.6 L743.9,507.1 L746.4,509.6 L748.9,512.1 L751.4,514.6 L753.9,517.2 L756.4,519.8 L758.9,522.4 L761.4,525.0 L763.9,527.7 L766.4,530.4 L768.9,533.1 L771.4,535.8 L773.9,538.6 L776.4,541.4 L778.9,544.2 L781.4,547.0 L783.9,549.8 L786.4,552.7 L788.9,555.6 L791.4,558.5 L793.9,561.4 L796.4,564.4 L798.9,567.3 L801.4,570.3 L803.9,573.3 L806.4,576.3 L808.9,579.4 L811.4,582.4 L813.9,585.5 L816.4,588.6 L818.9,591.7 L821.4,594.8 L823.9,598.0 L826.4,601.1 L828.9,604.3 L831.4,607.5 L833.9,610.7 L836.4,613.9 L838.9,617.1 L841.4,620.4 L843.9,623.6 L846.4,626.9 L848.9,630.2 L851.4,633.4 L853.9,636.7 L856.4,640.1 L858.9,643.4 L861.4,646.7 L863.9,650.1 L866.4,653.4 L868.9,656.8 L871.4,660.1 L873.9,663.5 L876.4,666.9 L878.9,670.3 L881.4,673.7 L883.9,677.1 L886.4,680.5 L888.9,683.9 L891.4,687.4 L893.9,690.8 L896.4,694.2 L898.9,697.7 L901.4,701.1 L903.9,704.6 L906.4,708.0 L908.9,711.5 L911.4,715.0 L913.9,718.4 L916.4,721.9 L918.9,725.4 L921.4,728.8 L923.9,732.3 L926.4,735.8 L928.9,739.3 L931.4,742.7 L933.9,746.2 L936.4,749.7 L938.9,753.2 L941.4,756.6 L943.9,760.1 L946.4,763.6 L948.9,767.0 L951.4,770.5 L953.9,774.0 L956.4,777.4 L958.9,780.9 L961.4,784.3 L963.9,787.8 L966.4,791.2 L968.9,794.7 L971.4,798.1 L973.9,801.5 L976.4,804.9 L978.9,808.3 L981.4,811.8 L983.9,815.2 L986.4,818.5 L988.9,821.9 L991.4,825.3 L993.9,828.7 L996.4,832.0 L998.9,835.4 L1001.4,838.7 L1003.9,842.1 L1006.4,845.4 L1008.9,848.7 L1011.4,852.1 L1013.9,855.4 L1016.4,858.7 L1018.9,862.1 L1021.4,865.4 L1023.9,868.8 L1026.4,872.1 L1028.9,875.4 L1031.4,878.8 L1033.9,882.2 L1036.4,885.5 L1038.9,888.9 L1041.4,892.3 L1043.9,895.7 L1046.4,899.1 L1048.9,902.5 L1051.4,905.9 L1053.9,909.4 L1056.4,912.8 L1058.9,916.3 L1061.4,919.8 L1063.9,923.3 L1066.4,926.8 L1068.9,930.4 L1071.4,933.9 L1073.9,937.5 L1076.4,941.1 L1078.9,944.7 L1081.4,948.4 L1083.9,952.1 L1086.4,955.8 L1088.9,959.5 L1091.4,963.3 L1093.9,967.2 L1096.4,971.2 L1098.9,975.2 L1101.4,979.3 L1103.9,983.5 L1106.4,987.7 L1108.9,992.0 L1111.4,996.3 L1113.9,1000.5 L1116.4,1004.7 L1118.9,1008.9 L1121.4,1012.9 L1123.9,1017.0 L1126.4,1020.9 L1128.9,1024.8 L1131.4,1028.6 L1133.9,1032.3 L1136.4,1036.0 L1138.9,1039.6 L1141.4,1043.2 L1143.9,1046.8 L1146.4,1050.2 L1148.9,1053.7 L1151.4,1057.0 L1153.9,1060.4 L1156.4,1063.6 L1158.9,1066.9 L1161.4,1070.1 L1163.9,1073.3 L1166.4,1076.4 L1168.9,1079.5 L1171.4,1082.6 L1173.9,1085.6 L1176.4,1088.6 L1178.9,1091.6 L1181.4,1094.6 L1183.9,1097.6 L1186.4,1100.5 L1188.9,1103.4 L1191.4,1106.4 L1193.9,1109.3 L1196.4,1112.2 L1198.9,1115.1 L1201.4,1118.0 L1203.9,1121.0 L1206.4,1123.9 L1208.9,1126.8 L1211.4,1129.7 L1213.9,1132.6 L1216.4,1135.6 L1218.9,1138.5 L1221.4,1141.4 L1223.9,1144.3 L1226.4,1147.2 L1228.9,1150.1 L1231.4,1152.9 L1233.9,1155.8 L1236.4,1158.7 L1238.9,1161.5 L1241.4,1164.4 L1243.9,1167.2 L1246.4,1170.0 L1248.9,1172.8 L1251.4,1175.6 L1253.9,1178.3 L1256.4,1181.1 L1258.9,1183.8 L1261.4,1186.5 L1263.9,1189.2 L1266.4,1191.9 L1268.9,1194.5 L1271.4,1197.1 L1273.9,1199.7 L1276.4,1202.3 L1278.9,1204.8 L1281.4,1207.3 L1283.9,1209.8 L1286.4,1212.3 L1288.9,1214.7 L1291.4,1217.1 L1293.9,1219.5 L1296.4,1221.8 L1298.9,1224.1 L1301.4,1226.3 L1303.9,1228.6 L1306.4,1230.8 L1308.9,1232.9 L1311.4,1235.0 L1313.9,1237.1 L1316.4,1239.1 L1318.9,1241.1 L1321.4,1243.1 L1323.9,1245.0 L1326.4,1246.8 L1328.9,1248.7 L1331.4,1250.4 L1333.9,1252.2 L1336.4,1253.9 L1338.9,1255.5 L1341.4,1257.1 L1343.9,1258.7 L1346.4,1260.2 L1348.9,1261.7 L1351.4,1263.2 L1353.9,1264.6 L1356.4,1266.0 L1358.9,1267.4 L1361.4,1268.7 L1363.9,1270.0 L1366.4,1271.3 L1368.9,1272.5 L1371.4,1273.7 L1373.9,1274.9 L1376.4,1276.0 L1378.9,1277.2 L1381.4,1278.2 L1383.9,1279.3 L1386.4,1280.4 L1388.9,1281.4 L1391.4,1282.4 L1393.9,1283.3 L1396.4,1284.3 L1398.9,1285.2 L1401.4,1286.1 L1403.9,1287.0 L1406.4,1287.8 L1408.9,1288.7 L1411.4,1289.5 L1413.9,1290.3 L1416.4,1291.1 L1418.9,1291.8 L1421.4,1292.6 L1423.9,1293.3 L1426.4,1294.1 L1428.9,1294.8 L1431.4,1295.5 L1433.9,1296.2 L1436.4,1296.9 L1438.9,1297.5 L1441.4,1298.2 L1443.9,1298.9 L1446.4,1299.5 L1448.9,1300.1 L1451.4,1300.8 L1453.9,1301.4 L1456.4,1302.0 L1458.9,1302.6 L1461.4,1303.2 L1463.9,1303.8 L1466.4,1304.4 L1468.9,1305.0 L1471.4,1305.6 L1473.9,1306.2 L1476.4,1306.8 L1478.9,1307.3 L1481.4,1307.9 L1483.9,1308.4 L1486.4,1309.0 L1488.9,1309.5 L1491.4,1310.1 L1493.9,1310.6 L1496.4,1311.1 L1498.9,1311.6 L1501.4,1312.2 L1503.9,1312.7 L1506.4,1313.2 L1508.9,1313.7 L1511.4,1314.2 L1513.9,1314.6 L1516.4,1315.1 L1518.9,1315.6 L1521.4,1316.1 L1523.9,1316.5 L1526.4,1317.0 L1528.9,1317.4 L1531.4,1317.9 L1533.9,1318.3 L1536.4,1318.7 L1538.9,1319.2 L1541.4,1319.6 L1543.9,1320.0 L1546.4,1320.4 L1548.9,1320.8 L1551.4,1321.2 L1553.9,1321.6 L1556.4,1322.0 L1558.9,1322.4 L1561.4,1322.8 L1563.9,1323.2 L1566.4,1323.5 L1568.9,1323.9 L1571.4,1324.3 L1573.9,1324.6 L1576.4,1325.0 L1578.9,1325.3 L1581.4,1325.6 L1583.9,1326.0 L1586.4,1326.3 L1588.9,1326.6 L1591.4,1326.9 L1593.9,1327.3 L1596.4,1327.6 L1598.9,1327.9 L1601.4,1328.2 L1603.9,1328.5 L1606.4,1328.7 L1608.9,1329.0 L1611.4,1329.3 L1613.9,1329.6 L1616.4,1329.8 L1618.9,1330.1 L1621.4,1330.4 L1623.9,1330.6 L1626.4,1330.9 L1628.9,1331.1 L1631.4,1331.3 L1633.9,1331.6 L1636.4,1331.8 L1638.9,1332.0 L1641.4,1332.3 L1643.9,1332.5 L1646.4,1332.7 L1648.9,1332.9 L1651.4,1333.1 L1653.9,1333.3 L1656.4,1333.5 L1658.9,1333.7 L1661.4,1333.8 L1663.9,1334.0 L1666.4,1334.2 L1668.9,1334.4 L1671.4,1334.5 L1673.9,1334.7 L1676.4,1334.8 L1678.9,1335.0 L1681.4,1335.1 L1683.9,1335.3 L1686.4,1335.4 L1688.9,1335.6"/>
<path stroke-width="5.1" d="M1688.9,1335.6 L1691.4,1335.7 L1693.9,1335.8 L1696.4,1335.9 L1698.9,1336.1 L1701.4,1336.2 L1703.9,1336.3 L1706.4,1336.4 L1708.9,1336.5 L1711.4,1336.6 L1713.9,1336.7 L1716.4,1336.8 L1718.9,1336.8 L1721.4,1336.9 L1723.9,1337.0 L1726.4,1337.1 L1728.9,1337.1 L1731.4,1337.2 L1733.9,1337.2 L1736.4,1337.3 L1738.9,1337.4 L1741.4,1337.4 L1743.9,1337.4 L1746.4,1337.5 L1748.9,1337.5 L1751.4,1337.6 L1753.9,1337.6 L1756.4,1337.6 L1758.9,1337.6 L1761.4,1337.6 L1763.9,1337.7"/>
<path stroke-width="5.3" d="M1763.9,1337.7 L1766.4,1337.7 L1767.9,1337.7 L1769.4,1337.7 L1770.9,1337.8 L1772.4,1337.8 L1773.9,1337.8 L1775.4,1337.9 L1776.9,1337.9 L1778.4,1337.9 L1779.9,1338.0 L1781.4,1338.0 L1782.9,1338.1 L1784.4,1338.1 L1785.9,1338.2 L1787.4,1338.2 L1788.9,1338.2 L1790.4,1338.3 L1791.9,1338.3 L1793.4,1338.3 L1794.9,1338.3 L1796.4,1338.4 L1797.9,1338.4 L1799.4,1338.4 L1800.9,1338.4 L1802.4,1338.4 L1803.9,1338.4 L1805.4,1338.4 L1806.9,1338.4 L1808.4,1338.4 L1809.9,1338.4 L1811.4,1338.4 L1812.9,1338.4 L1814.4,1338.5 L1815.9,1338.5 L1817.4,1338.5 L1818.9,1338.5 L1820.4,1338.5 L1821.9,1338.5 L1823.4,1338.5 L1824.9,1338.5 L1826.4,1338.5 L1827.9,1338.5 L1829.4,1338.5 L1830.9,1338.5 L1832.4,1338.5 L1833.9,1338.5 L1835.4,1338.5 L1836.9,1338.5 L1838.4,1338.5 L1839.9,1338.5 L1841.4,1338.5 L1842.9,1338.5 L1844.4,1338.5 L1845.9,1338.5 L1847.4,1338.5 L1848.9,1338.5 L1850.4,1338.5 L1851.9,1338.5 L1853.4,1338.5 L1854.9,1338.5 L1856.4,1338.5 L1857.9,1338.5 L1859.4,1338.5 L1860.9,1338.5 L1862.4,1338.5 L1863.9,1338.5 L1865.4,1338.5 L1866.9,1338.5 L1868.4,1338.5 L1869.9,1338.5 L1871.4,1338.5 L1872.9,1338.6 L1874.4,1338.6 L1875.9,1338.6 L1877.4,1338.6 L1878.9,1338.6 L1880.4,1338.6 L1881.9,1338.6 L1883.4,1338.6 L1884.9,1338.6 L1886.4,1338.6 L1887.9,1338.6 L1889.4,1338.6 L1890.9,1338.6 L1892.4,1338.6 L1893.9,1338.6 L1895.4,1338.6 L1896.9,1338.6 L1898.4,1338.6 L1899.9,1338.6 L1901.4,1338.6 L1902.9,1338.6 L1904.4,1338.6 L1905.9,1338.6 L1907.4,1338.6 L1908.9,1338.6 L1910.4,1338.6 L1911.9,1338.6 L1913.4,1338.6 L1914.9,1338.6 L1916.4,1338.6 L1917.9,1338.6 L1919.4,1338.6 L1920.9,1338.6 L1922.4,1338.6 L1923.9,1338.6 L1925.4,1338.6 L1926.9,1338.6 L1928.4,1338.6 L1929.9,1338.6 L1931.4,1338.6 L1932.9,1338.7 L1934.4,1338.7 L1935.9,1338.7 L1937.4,1338.7 L1938.9,1338.7 L1940.4,1338.7 L1941.9,1338.7 L1943.4,1338.7 L1944.9,1338.7 L1946.4,1338.7 L1947.9,1338.7 L1949.4,1338.7 L1950.9,1338.7 L1952.4,1338.7 L1953.9,1338.7 L1955.4,1338.7 L1956.9,1338.7 L1958.4,1338.8 L1959.9,1338.8 L1961.4,1338.8 L1962.9,1338.8 L1964.4,1338.8 L1965.9,1339.4 L1967.4,1339.9 L1968.9,1340.0 L1970.4,1340.0 L1971.9,1340.0 L1973.4,1340.0 L1974.9,1340.0 L1976.4,1340.0 L1977.9,1340.0 L1979.4,1340.0 L1980.9,1340.0 L1982.4,1340.0 L1983.9,1340.0 L1985.4,1340.0 L1986.9,1340.0 L1988.4,1340.0 L1989.9,1339.3 L1991.4,1338.6 L1992.9,1338.5 L1994.4,1338.4 L1995.9,1338.4 L1997.4,1338.3 L1998.9,1338.3 L2000.4,1338.2 L2001.9,1338.2 L2003.4,1338.1 L2004.9,1338.1 L2006.4,1338.1 L2007.9,1338.0 L2009.4,1338.0 L2010.9,1338.0 L2012.4,1337.9 L2013.9,1337.9 L2015.4,1337.9 L2016.9,1337.9 L2018.4,1337.8 L2019.9,1337.8 L2021.4,1337.8 L2022.9,1337.8 L2024.4,1337.7 L2025.9,1337.7 L2027.4,1337.7 L2028.9,1337.7 L2030.4,1337.7 L2031.9,1337.7 L2033.4,1337.7 L2034.9,1337.6 L2036.4,1337.6 L2037.9,1337.6 L2039.4,1337.6 L2040.9,1337.6 L2042.4,1337.6 L2043.9,1337.6 L2045.4,1337.6 L2046.9,1337.6 L2048.4,1337.6 L2049.9,1337.6 L2051.4,1337.5 L2052.9,1337.5 L2054.4,1337.5 L2055.9,1337.5 L2057.4,1337.5 L2058.9,1337.5 L2060.4,1337.5 L2061.9,1337.5 L2063.4,1337.5 L2064.9,1337.5 L2066.4,1337.5 L2067.9,1337.5 L2069.4,1337.4 L2070.9,1337.4 L2072.4,1337.4 L2073.9,1337.4 L2075.4,1337.4 L2076.9,1337.4 L2078.4,1337.4 L2079.9,1337.3 L2081.4,1337.3 L2082.9,1337.3 L2084.4,1337.3 L2085.9,1337.3 L2087.4,1337.2 L2088.9,1337.2 L2090.4,1337.2 L2091.9,1337.2 L2093.4,1337.1 L2094.9,1337.1 L2096.4,1337.1 L2097.9,1337.0 L2099.4,1337.0 L2100.9,1337.0 L2102.4,1336.9 L2103.9,1336.9 L2105.4,1336.9 L2106.9,1336.8 L2108.4,1336.8 L2109.9,1336.7 L2111.4,1336.7 L2112.9,1336.7 L2114.4,1336.6 L2115.9,1336.6 L2117.4,1336.5 L2118.9,1336.4 L2120.4,1336.4 L2121.9,1336.3 L2123.4,1336.3 L2124.9,1336.2 L2126.4,1336.1 L2127.9,1336.0 L2129.4,1335.9 L2130.9,1335.8 L2132.4,1335.7 L2133.9,1335.6 L2135.4,1335.5 L2136.9,1335.4 L2138.4,1335.3 L2139.9,1335.1 L2141.4,1335.0 L2142.9,1334.8 L2144.4,1334.7 L2145.9,1334.5 L2147.4,1334.3 L2148.9,1334.1 L2150.4,1333.9 L2151.9,1333.3 L2153.4,1332.3 L2154.9,1331.2 L2156.4,1330.4 L2157.9,1330.0 L2159.4,1330.0 L2160.9,1330.0 L2162.4,1330.0 L2163.9,1330.0 L2165.4,1330.0 L2166.9,1330.0 L2168.4,1330.0 L2169.9,1330.0 L2171.4,1330.0 L2172.9,1330.0 L2174.4,1330.0 L2175.9,1330.0 L2177.4,1330.0 L2178.9,1330.0 L2180.4,1330.0 L2181.9,1330.0 L2183.4,1330.0 L2184.9,1330.0 L2186.4,1330.0 L2187.9,1330.0 L2189.4,1330.0 L2190.9,1330.0 L2192.4,1330.0 L2193.9,1330.0 L2195.4,1330.0 L2196.9,1330.0 L2198.4,1330.0 L2199.9,1330.0 L2201.4,1330.0 L2202.9,1330.0 L2204.4,1330.0 L2205.9,1330.0 L2207.4,1330.0 L2208.9,1330.0 L2210.4,1330.0 L2211.9,1330.0 L2213.4,1330.0 L2214.9,1330.0 L2216.4,1330.0 L2217.9,1330.2 L2219.4,1330.9 L2220.9,1331.8 L2222.4,1332.0 L2223.9,1332.0 L2225.4,1332.0 L2226.9,1332.0 L2228.4,1332.0 L2229.9,1332.0 L2231.4,1332.0 L2232.9,1332.0 L2234.4,1332.0 L2235.9,1332.0 L2237.4,1332.0 L2238.9,1332.0 L2240.4,1332.0 L2241.9,1332.0 L2243.4,1332.0 L2244.9,1332.0 L2246.4,1332.0 L2247.9,1332.0 L2249.4,1332.0 L2250.9,1332.0 L2252.4,1332.0 L2253.9,1332.0 L2255.4,1332.1 L2256.9,1332.9 L2258.4,1334.2 L2259.9,1335.0 L2261.4,1335.1 L2262.9,1335.2 L2264.4,1335.3 L2265.9,1335.4 L2267.4,1335.5 L2268.9,1335.6 L2270.4,1335.6 L2271.9,1335.7 L2273.4,1335.7 L2274.9,1335.8 L2276.4,1335.8 L2277.9,1335.9 L2279.4,1335.9 L2280.9,1335.9 L2282.4,1336.0 L2283.9,1336.0 L2285.4,1336.0 L2286.9,1336.0 L2288.4,1336.0 L2289.9,1336.0 L2291.4,1336.0 L2292.9,1336.0 L2294.4,1336.0 L2295.9,1336.0 L2297.4,1336.0 L2298.9,1336.0 L2300.0,1336.0"/>
</g>
<g class="cv" stroke="#800080">
<path stroke-width="4.6" d="M318.9,684.0 L321.4,682.1 L323.9,679.3 L326.4,675.9 L328.9,671.8 L331.4,667.0 L333.9,661.7 L336.4,655.9 L338.9,649.6 L341.4,642.9 L343.9,635.9 L346.4,628.4 L348.9,620.7 L351.4,612.8 L353.9,604.7 L356.4,596.4 L358.9,588.1 L361.4,579.7 L363.9,571.3 L366.4,563.0 L368.9,554.7 L371.4,546.5 L373.9,538.4 L376.4,530.3 L378.9,522.3 L381.4,514.4 L383.9,506.5 L386.4,498.6 L388.9,490.9 L391.4,483.2 L393.9,475.5 L396.4,467.9 L398.9,460.4 L401.4,452.9 L403.9,445.5 L406.4,438.1 L408.9,430.8 L411.4,423.5 L413.9,416.3 L416.4,409.1 L418.9,402.0 L421.4,394.9 L423.9,387.9 L426.4,380.9 L428.9,373.9 L431.4,367.0 L433.9,360.1 L436.4,353.3 L438.9,346.4 L441.4,339.6 L443.9,332.9 L446.4,326.2 L448.9,319.5 L451.4,312.8 L453.9,306.1 L456.4,299.5 L458.9,292.9 L461.4,286.3 L463.9,279.8 L466.4,273.2 L468.9,266.7 L471.4,260.2 L473.9,253.8 L476.4,247.5 L478.9,241.3 L481.4,235.1 L483.9,229.1 L486.4,223.3 L488.9,217.6 L491.4,212.1 L493.9,206.8 L496.4,201.6 L498.9,196.7 L501.4,192.0 L503.9,187.5 L506.4,183.2 L508.9,179.1 L511.4,175.2 L513.9,171.5 L516.4,168.0 L518.9,164.7 L521.4,161.6 L523.9,158.6 L526.4,155.8 L528.9,153.3 L531.4,150.9 L533.9,148.6 L536.4,146.6 L538.9,144.7 L541.4,143.0 L543.9,141.5 L546.4,140.1 L548.9,138.9 L551.4,137.9 L553.9,137.0 L556.4,136.3 L558.9,135.7 L561.4,135.3 L563.9,135.0 L566.4,134.9 L568.9,134.9 L571.4,135.1 L573.9,135.4 L576.4,135.8 L578.9,136.4 L581.4,137.1 L583.9,138.0 L586.4,139.0 L588.9,140.1 L591.4,141.3 L593.9,142.7 L596.4,144.1 L598.9,145.7 L601.4,147.5 L603.9,149.3 L606.4,151.2 L608.9,153.3 L611.4,155.4 L613.9,157.7 L616.4,160.1 L618.9,162.5 L621.4,165.1 L623.9,167.7 L626.4,170.5 L628.9,173.3 L631.4,176.3 L633.9,179.3 L636.4,182.4 L638.9,185.6 L641.4,188.8 L643.9,192.2 L646.4,195.6 L648.9,199.0 L651.4,202.6 L653.9,206.2 L656.4,209.9 L658.9,213.6 L661.4,217.4 L663.9,221.2 L666.4,225.0 L668.9,229.0 L671.4,232.9 L673.9,236.9 L676.4,240.9 L678.9,245.0 L681.4,249.1 L683.9,253.2 L686.4,257.4 L688.9,261.5 L691.4,265.7 L693.9,269.9 L696.4,274.1 L698.9,278.3 L701.4,282.5 L703.9,286.7 L706.4,291.0 L708.9,295.2 L711.4,299.5 L713.9,303.7 L716.4,308.0 L718.9,312.3 L721.4,316.5 L723.9,320.8 L726.4,325.1 L728.9,329.5 L731.4,333.8 L733.9,338.2 L736.4,342.5 L738.9,346.9 L741.4,351.3 L743.9,355.7 L746.4,360.1 L748.9,364.6 L751.4,369.0 L753.9,373.5 L756.4,378.0 L758.9,382.5 L761.4,387.1 L763.9,391.6 L766.4,396.2 L768.9,400.8 L771.4,405.4 L773.9,410.1 L776.4,414.7 L778.9,419.3 L781.4,424.0 L783.9,428.7 L786.4,433.4 L788.9,438.1 L791.4,442.8 L793.9,447.5 L796.4,452.2 L798.9,456.9 L801.4,461.6 L803.9,466.4 L806.4,471.1 L808.9,475.9 L811.4,480.6 L813.9,485.3 L816.4,490.1 L818.9,494.8 L821.4,499.5 L823.9,504.3 L826.4,509.0 L828.9,513.7 L831.4,518.4 L833.9,523.1 L836.4,527.8 L838.9,532.5 L841.4,537.2 L843.9,541.8 L846.4,546.5 L848.9,551.1 L851.4,555.7 L853.9,560.3 L856.4,564.9 L858.9,569.5 L861.4,574.1 L863.9,578.6 L866.4,583.1 L868.9,587.6 L871.4,592.1 L873.9,596.6 L876.4,601.0 L878.9,605.4 L881.4,609.8 L883.9,614.1 L886.4,618.5 L888.9,622.8 L891.4,627.0 L893.9,631.3 L896.4,635.5 L898.9,639.6 L901.4,643.8 L903.9,647.9 L906.4,652.0 L908.9,656.0 L911.4,660.0 L913.9,664.0 L916.4,667.9 L918.9,671.8 L921.4,675.7 L923.9,679.6 L926.4,683.4 L928.9,687.2 L931.4,691.0 L933.9,694.7 L936.4,698.4 L938.9,702.1 L941.4,705.8 L943.9,709.5 L946.4,713.1 L948.9,716.7 L951.4,720.3 L953.9,723.9 L956.4,727.5 L958.9,731.1 L961.4,734.6 L963.9,738.2 L966.4,741.7 L968.9,745.3 L971.4,748.8 L973.9,752.3 L976.4,755.8 L978.9,759.3 L981.4,762.8 L983.9,766.3 L986.4,769.8 L988.9,773.3 L991.4,776.8 L993.9,780.3 L996.4,783.8 L998.9,787.4 L1001.4,790.9 L1003.9,794.4 L1006.4,798.0 L1008.9,801.5 L1011.4,805.1 L1013.9,808.6 L1016.4,812.2 L1018.9,815.8 L1021.4,819.4 L1023.9,823.1 L1026.4,826.7 L1028.9,830.4 L1031.4,834.1 L1033.9,837.8 L1036.4,841.5 L1038.9,845.2 L1041.4,849.0 L1043.9,852.7 L1046.4,856.5 L1048.9,860.2 L1051.4,863.9 L1053.9,867.6 L1056.4,871.2 L1058.9,874.9 L1061.4,878.4 L1063.9,882.0 L1066.4,885.5 L1068.9,888.9 L1071.4,892.2 L1073.9,895.5 L1076.4,898.7 L1078.9,901.9 L1081.4,905.0 L1083.9,908.2 L1086.4,911.4 L1088.9,914.9 L1091.4,918.5 L1093.9,922.4 L1096.4,926.6 L1098.9,930.9 L1101.4,935.3 L1103.9,939.9 L1106.4,944.5 L1108.9,949.1 L1111.4,953.7 L1113.9,958.4 L1116.4,963.0 L1118.9,967.6 L1121.4,972.2 L1123.9,976.7 L1126.4,981.1 L1128.9,985.5 L1131.4,989.8 L1133.9,994.0 L1136.4,998.0 L1138.9,1002.0 L1141.4,1005.8 L1143.9,1009.4 L1146.4,1013.0 L1148.9,1016.5 L1151.4,1019.8 L1153.9,1023.1 L1156.4,1026.3 L1158.9,1029.5 L1161.4,1032.5 L1163.9,1035.6 L1166.4,1038.6 L1168.9,1041.6 L1171.4,1044.6 L1173.9,1047.5 L1176.4,1050.5 L1178.9,1053.5 L1181.4,1056.5 L1183.9,1059.6 L1186.4,1062.7 L1188.9,1065.8 L1191.4,1068.9 L1193.9,1072.1 L1196.4,1075.2 L1198.9,1078.4 L1201.4,1081.6 L1203.9,1084.8 L1206.4,1088.1 L1208.9,1091.3 L1211.4,1094.5 L1213.9,1097.8 L1216.4,1101.0 L1218.9,1104.2 L1221.4,1107.4 L1223.9,1110.6 L1226.4,1113.8 L1228.9,1117.0 L1231.4,1120.2 L1233.9,1123.3 L1236.4,1126.4 L1238.9,1129.5 L1241.4,1132.6 L1243.9,1135.6 L1246.4,1138.6 L1248.9,1141.6 L1251.4,1144.6 L1253.9,1147.5 L1256.4,1150.4 L1258.9,1153.3 L1261.4,1156.1 L1263.9,1159.0 L1266.4,1161.8 L1268.9,1164.6 L1271.4,1167.3 L1273.9,1170.0 L1276.4,1172.7 L1278.9,1175.4 L1281.4,1178.0 L1283.9,1180.6 L1286.4,1183.2 L1288.9,1185.8 L1291.4,1188.3 L1293.9,1190.8 L1296.4,1193.3 L1298.9,1195.7 L1301.4,1198.1 L1303.9,1200.5 L1306.4,1202.9 L1308.9,1205.2 L1311.4,1207.5 L1313.9,1209.8 L1316.4,1212.0 L1318.9,1214.3 L1321.4,1216.4 L1323.9,1218.6 L1326.4,1220.7 L1328.9,1222.8 L1331.4,1224.9 L1333.9,1226.9 L1336.4,1228.9 L1338.9,1230.9 L1341.4,1232.9 L1343.9,1234.8 L1346.4,1236.7 L1348.9,1238.6 L1351.4,1240.4 L1353.9,1242.2 L1356.4,1244.0 L1358.9,1245.7 L1361.4,1247.4 L1363.9,1249.1 L1366.4,1250.7 L1368.9,1252.3 L1371.4,1253.9 L1373.9,1255.5 L1376.4,1257.0 L1378.9,1258.5 L1381.4,1260.0 L1383.9,1261.4 L1386.4,1262.8 L1388.9,1264.2 L1391.4,1265.6 L1393.9,1266.9 L1396.4,1268.2 L1398.9,1269.5 L1401.4,1270.7 L1403.9,1271.9 L1406.4,1273.2 L1408.9,1274.3 L1411.4,1275.5 L1413.9,1276.6 L1416.4,1277.7 L1418.9,1278.8 L1421.4,1279.9 L1423.9,1280.9 L1426.4,1281.9 L1428.9,1282.9 L1431.4,1283.9 L1433.9,1284.9 L1436.4,1285.8 L1438.9,1286.8 L1441.4,1287.7 L1443.9,1288.5 L1446.4,1289.4 L1448.9,1290.3 L1451.4,1291.1 L1453.9,1291.9 L1456.4,1292.7 L1458.9,1293.5 L1461.4,1294.3 L1463.9,1295.0 L1466.4,1295.8 L1468.9,1296.5 L1471.4,1297.2 L1473.9,1297.9 L1476.4,1298.6 L1478.9,1299.3 L1481.4,1299.9 L1483.9,1300.6 L1486.4,1301.2 L1488.9,1301.9 L1491.4,1302.5 L1493.9,1303.1 L1496.4,1303.7 L1498.9,1304.3 L1501.4,1304.9 L1503.9,1305.5 L1506.4,1306.0 L1508.9,1306.6 L1511.4,1307.1 L1513.9,1307.7 L1516.4,1308.2 L1518.9,1308.8 L1521.4,1309.3 L1523.9,1309.8 L1526.4,1310.3 L1528.9,1310.8 L1531.4,1311.3 L1533.9,1311.8 L1536.4,1312.3 L1538.9,1312.8 L1541.4,1313.3 L1543.9,1313.8 L1546.4,1314.2 L1548.9,1314.7 L1551.4,1315.2 L1553.9,1315.6 L1556.4,1316.1 L1558.9,1316.5 L1561.4,1316.9 L1563.9,1317.4 L1566.4,1317.8 L1568.9,1318.2 L1571.4,1318.6 L1573.9,1319.0 L1576.4,1319.4 L1578.9,1319.8 L1581.4,1320.2 L1583.9,1320.6 L1586.4,1320.9 L1588.9,1321.3 L1591.4,1321.7 L1593.9,1322.0 L1596.4,1322.4 L1598.9,1322.7 L1601.4,1323.1 L1603.9,1323.4 L1606.4,1323.8 L1608.9,1324.1 L1611.4,1324.4 L1613.9,1324.7 L1616.4,1325.0 L1618.9,1325.3 L1621.4,1325.6 L1623.9,1325.9 L1626.4,1326.2 L1628.9,1326.5 L1631.4,1326.8 L1633.9,1327.1 L1636.4,1327.4 L1638.9,1327.6 L1641.4,1327.9 L1643.9,1328.1 L1646.4,1328.4 L1648.9,1328.6 L1651.4,1328.9 L1653.9,1329.1 L1656.4,1329.4 L1658.9,1329.6 L1661.4,1329.8 L1663.9,1330.0 L1666.4,1330.2 L1668.9,1330.4 L1671.4,1330.7 L1673.9,1330.9 L1676.4,1331.0 L1678.9,1331.2 L1681.4,1331.4 L1683.9,1331.6 L1686.4,1331.8 L1688.9,1332.0"/>
<path stroke-width="5.3" d="M1688.9,1332.0 L1691.4,1332.1 L1693.9,1332.3 L1696.4,1332.5 L1698.9,1332.6 L1701.4,1332.8 L1703.9,1332.9 L1706.4,1333.1 L1708.9,1333.2 L1711.4,1333.3 L1713.9,1333.5 L1716.4,1333.6 L1718.9,1333.7 L1721.4,1333.8 L1723.9,1334.0 L1726.4,1334.1 L1728.9,1334.2 L1731.4,1334.3 L1733.9,1334.4 L1736.4,1334.5 L1738.9,1334.6 L1741.4,1334.7 L1743.9,1334.7 L1746.4,1334.8 L1748.9,1334.9 L1751.4,1335.0 L1753.9,1335.0 L1756.4,1335.1 L1758.9,1335.2 L1761.4,1335.2 L1763.9,1335.3"/>
<path stroke-width="6.0" d="M1763.9,1335.3 L1766.4,1335.2 L1767.9,1335.1 L1769.4,1335.0 L1770.9,1334.9 L1772.4,1334.9 L1773.9,1334.8 L1775.4,1334.8 L1776.9,1335.2 L1778.4,1335.8 L1779.9,1336.3 L1781.4,1336.4 L1782.9,1336.4 L1784.4,1336.4 L1785.9,1336.4 L1787.4,1336.5 L1788.9,1336.5 L1790.4,1336.5 L1791.9,1336.5 L1793.4,1336.5 L1794.9,1336.5 L1796.4,1336.5 L1797.9,1336.5 L1799.4,1336.5 L1800.9,1336.6 L1802.4,1336.6 L1803.9,1336.6 L1805.4,1336.6 L1806.9,1336.6 L1808.4,1336.6 L1809.9,1336.6 L1811.4,1336.6 L1812.9,1336.6 L1814.4,1336.6 L1815.9,1336.6 L1817.4,1336.7 L1818.9,1336.7 L1820.4,1336.7 L1821.9,1336.7 L1823.4,1336.7 L1824.9,1336.7 L1826.4,1336.7 L1827.9,1336.7 L1829.4,1336.7 L1830.9,1336.7 L1832.4,1336.7 L1833.9,1336.7 L1835.4,1336.7 L1836.9,1336.7 L1838.4,1336.7 L1839.9,1336.7 L1841.4,1336.7 L1842.9,1336.7 L1844.4,1336.7 L1845.9,1336.8 L1847.4,1336.8 L1848.9,1336.8 L1850.4,1336.8 L1851.9,1336.8 L1853.4,1336.8 L1854.9,1336.8 L1856.4,1336.8 L1857.9,1336.8 L1859.4,1336.8 L1860.9,1336.8 L1862.4,1336.8 L1863.9,1336.8 L1865.4,1336.8 L1866.9,1336.8 L1868.4,1336.8 L1869.9,1336.8 L1871.4,1336.8 L1872.9,1336.8 L1874.4,1336.8 L1875.9,1336.8 L1877.4,1336.8 L1878.9,1336.8 L1880.4,1336.8 L1881.9,1336.8 L1883.4,1336.8 L1884.9,1336.8 L1886.4,1336.8 L1887.9,1336.8 L1889.4,1336.8 L1890.9,1336.8 L1892.4,1336.8 L1893.9,1336.8 L1895.4,1336.8 L1896.9,1336.8 L1898.4,1336.8 L1899.9,1336.8 L1901.4,1336.8 L1902.9,1336.8 L1904.4,1336.8 L1905.9,1336.8 L1907.4,1336.8 L1908.9,1336.8 L1910.4,1336.8 L1911.9,1336.8 L1913.4,1336.8 L1914.9,1336.8 L1916.4,1336.8 L1917.9,1336.8 L1919.4,1336.8 L1920.9,1336.8 L1922.4,1336.8 L1923.9,1336.8 L1925.4,1336.8 L1926.9,1336.8 L1928.4,1336.8 L1929.9,1336.8 L1931.4,1336.8 L1932.9,1336.8 L1934.4,1336.8 L1935.9,1336.8 L1937.4,1336.8 L1938.9,1336.8 L1940.4,1336.8 L1941.9,1336.8 L1943.4,1336.8 L1944.9,1336.8 L1946.4,1336.8 L1947.9,1336.8 L1949.4,1336.8 L1950.9,1336.8 L1952.4,1336.8 L1953.9,1336.8 L1955.4,1336.8 L1956.9,1336.8 L1958.4,1336.8 L1959.9,1336.8 L1961.4,1336.8 L1962.9,1336.8 L1964.4,1336.8 L1965.9,1336.8 L1967.4,1336.8 L1968.9,1336.8 L1970.4,1336.8 L1971.9,1336.8 L1973.4,1336.8 L1974.9,1336.8 L1976.4,1336.8 L1977.9,1336.8 L1979.4,1336.8 L1980.9,1336.8 L1982.4,1336.8 L1983.9,1336.8 L1985.4,1336.8 L1986.9,1336.8 L1988.4,1336.8 L1989.9,1336.8 L1991.4,1337.0 L1992.9,1337.4 L1994.4,1337.8 L1995.9,1338.0 L1997.4,1338.0 L1998.9,1338.0 L2000.4,1338.0 L2001.9,1338.0 L2003.4,1338.0 L2004.9,1338.0 L2006.4,1338.0 L2007.9,1338.0 L2009.4,1338.0 L2010.9,1338.0 L2012.4,1337.9 L2013.9,1337.9 L2015.4,1337.9 L2016.9,1337.9 L2018.4,1337.9 L2019.9,1337.9 L2021.4,1337.8 L2022.9,1337.8 L2024.4,1337.8 L2025.9,1337.8 L2027.4,1337.8 L2028.9,1337.7 L2030.4,1337.7 L2031.9,1337.7 L2033.4,1337.7 L2034.9,1337.6 L2036.4,1337.6 L2037.9,1337.6 L2039.4,1337.5 L2040.9,1337.5 L2042.4,1337.3 L2043.9,1337.1 L2045.4,1336.8 L2046.9,1336.6 L2048.4,1336.4 L2049.9,1336.3 L2051.4,1336.3 L2052.9,1336.3 L2054.4,1336.2 L2055.9,1336.2 L2057.4,1336.2 L2058.9,1336.2 L2060.4,1336.2 L2061.9,1336.2 L2063.4,1336.2 L2064.9,1336.2 L2066.4,1336.2 L2067.9,1336.2 L2069.4,1336.2 L2070.9,1336.2 L2072.4,1336.2 L2073.9,1336.2 L2075.4,1336.2 L2076.9,1336.1 L2078.4,1336.1 L2079.9,1336.1 L2081.4,1336.1 L2082.9,1336.1 L2084.4,1336.1 L2085.9,1336.1 L2087.4,1336.1 L2088.9,1336.1 L2090.4,1336.1 L2091.9,1336.1 L2093.4,1336.1 L2094.9,1336.0 L2096.4,1336.0 L2097.9,1336.0 L2099.4,1335.9 L2100.9,1335.6 L2102.4,1335.3 L2103.9,1335.1 L2105.4,1335.0 L2106.9,1334.9 L2108.4,1334.9 L2109.9,1334.9 L2111.4,1334.8 L2112.9,1334.8 L2114.4,1334.8 L2115.9,1334.8 L2117.4,1334.8 L2118.9,1334.8 L2120.4,1334.8 L2121.9,1334.7 L2123.4,1334.7 L2124.9,1334.7 L2126.4,1334.7 L2127.9,1334.7 L2129.4,1334.7 L2130.9,1334.7 L2132.4,1334.7 L2133.9,1334.6 L2135.4,1334.6 L2136.9,1334.6 L2138.4,1334.5 L2139.9,1334.5 L2141.4,1334.4 L2142.9,1334.2 L2144.4,1333.9 L2145.9,1333.7 L2147.4,1333.5 L2148.9,1333.5 L2150.4,1333.5 L2151.9,1333.5 L2153.4,1333.5 L2154.9,1333.5 L2156.4,1333.5 L2157.9,1333.5 L2159.4,1333.5 L2160.9,1333.5 L2162.4,1333.5 L2163.9,1333.5 L2165.4,1333.5 L2166.9,1333.5 L2168.4,1333.5 L2169.9,1333.5 L2171.4,1333.5 L2172.9,1333.5 L2174.4,1333.5 L2175.9,1333.5 L2177.4,1333.5 L2178.9,1333.5 L2180.4,1333.5 L2181.9,1333.5 L2183.4,1333.5 L2184.9,1333.5 L2186.4,1333.5 L2187.9,1333.5 L2189.4,1333.5 L2190.9,1333.5 L2192.4,1333.5 L2193.9,1333.5 L2195.4,1333.5 L2196.9,1333.5 L2198.4,1333.5 L2199.9,1333.5 L2201.4,1333.5 L2202.9,1333.5 L2204.4,1333.5 L2205.9,1333.5 L2207.4,1333.5 L2208.9,1333.5 L2210.4,1333.5 L2211.9,1333.5 L2213.4,1333.5 L2214.9,1333.5 L2216.4,1333.5 L2217.9,1333.5 L2219.4,1333.5 L2220.9,1333.5 L2222.4,1333.5 L2223.9,1333.5 L2225.4,1333.5 L2226.9,1334.0 L2228.4,1334.9 L2229.9,1335.8 L2231.4,1336.4 L2232.9,1336.5 L2234.4,1336.5 L2235.9,1336.5 L2237.4,1336.6 L2238.9,1336.6 L2240.4,1336.6 L2241.9,1336.6 L2243.4,1336.6 L2244.9,1336.6 L2246.4,1336.6 L2247.9,1336.7 L2249.4,1336.7 L2250.9,1336.7 L2252.4,1336.7 L2253.9,1336.7 L2255.4,1336.7 L2256.9,1336.7 L2258.4,1336.7 L2259.9,1336.7 L2261.4,1336.7 L2262.9,1336.7 L2264.4,1336.7 L2265.9,1336.8 L2267.4,1336.8 L2268.9,1336.8 L2270.4,1336.8 L2271.9,1336.8 L2273.4,1336.8 L2274.9,1336.8 L2276.4,1336.8 L2277.9,1336.8 L2279.4,1336.8 L2280.9,1336.8 L2282.4,1336.8 L2283.9,1336.8 L2285.4,1336.8 L2286.9,1336.8 L2288.4,1336.8 L2289.9,1336.8 L2291.4,1336.8 L2292.9,1336.8 L2294.4,1336.8 L2295.9,1336.8 L2297.4,1336.8 L2298.9,1336.8 L2300.0,1336.8"/>
</g>
<text class="tk" text-anchor="end" transform="translate(274.0,1351.9) scale(0.945,1)">0</text>
<text class="tk" text-anchor="end" transform="translate(274.0,1155.1) scale(0.945,1)">1000</text>
<text class="tk" text-anchor="end" transform="translate(274.0,958.3) scale(0.945,1)">2000</text>
<text class="tk" text-anchor="end" transform="translate(274.0,761.6) scale(0.945,1)">3000</text>
<text class="tk" text-anchor="end" transform="translate(274.0,564.8) scale(0.945,1)">4000</text>
<text class="tk" text-anchor="end" transform="translate(274.0,368.0) scale(0.945,1)">5000</text>
<text class="tk" text-anchor="end" transform="translate(274.0,171.2) scale(0.945,1)">6000</text>
<text class="tk" text-anchor="middle" transform="translate(318.1,1432.0) scale(0.945,1)">400</text>
<text class="tk" text-anchor="middle" transform="translate(601.1,1432.0) scale(0.945,1)">450</text>
<text class="tk" text-anchor="middle" transform="translate(884.1,1432.0) scale(0.945,1)">500</text>
<text class="tk" text-anchor="middle" transform="translate(1167.1,1432.0) scale(0.945,1)">550</text>
<text class="tk" text-anchor="middle" transform="translate(1450.1,1432.0) scale(0.945,1)">600</text>
<text class="tk" text-anchor="middle" transform="translate(1733.1,1432.0) scale(0.945,1)">650</text>
<text class="tk" text-anchor="middle" transform="translate(2016.1,1432.0) scale(0.945,1)">700</text>
<text class="tk" text-anchor="middle" transform="translate(2299.1,1432.0) scale(0.945,1)">750</text>
<text class="xt" text-anchor="start" transform="translate(1220.5,1534.0) scale(0.985,1)">λ</text>
<text class="xt" text-anchor="start" transform="translate(1268.0,1534.0) scale(0.985,1)">(nm)</text>
<text class="yt" text-anchor="middle" transform="translate(123.6,747.3) rotate(-90) scale(0.975,1)">Intensity (a.u.)</text>
<line x1="1946.2" y1="966.3" x2="2104.2" y2="966.3" stroke="#2200ff" stroke-width="6"/>
<text class="lg" text-anchor="start" transform="translate(2117.8,982.5) scale(0.94,1)">NaL<tspan dx="2.2">1</tspan></text>
<line x1="1946.2" y1="1044" x2="2104.2" y2="1044" stroke="#e8200c" stroke-width="6"/>
<text class="lg" text-anchor="start" transform="translate(2117.8,1063.5) scale(0.94,1)">NaL<tspan dx="2.2">2</tspan></text>
<line x1="1946.2" y1="1120.5" x2="2104.2" y2="1120.5" stroke="#2b830f" stroke-width="6"/>
<text class="lgn" text-anchor="start" transform="translate(2118.5,1142.4)">1</text>
<line x1="1946.2" y1="1197.8" x2="2104.2" y2="1197.8" stroke="#800080" stroke-width="6"/>
<text class="lgn" text-anchor="start" transform="translate(2117.4,1219.7)">2</text>
<path d="M2358.4,737.6 h-2.6 q-2.2,0 -2.2,2.6 v14 q0,2.6 2.2,2.6 h2.6" fill="none" stroke="#8f8f8f" stroke-width="2.2"/>
</g>
</svg>
</body></html>
